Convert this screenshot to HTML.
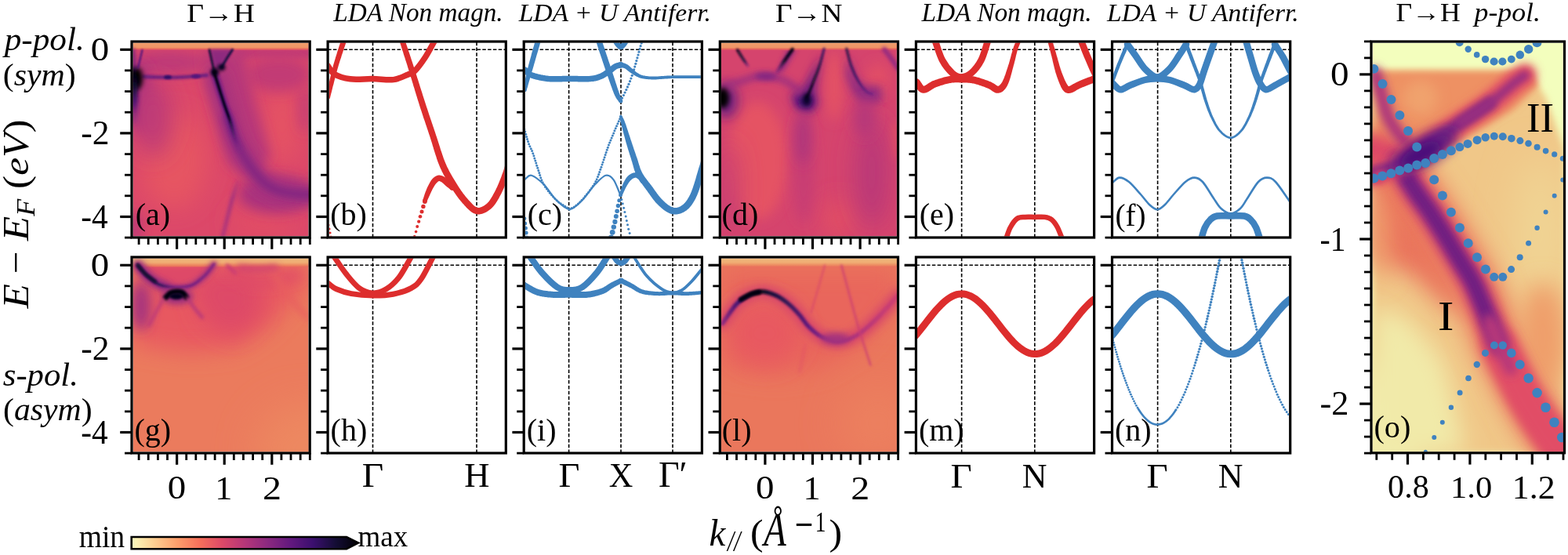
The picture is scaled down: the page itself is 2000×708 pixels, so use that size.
<!DOCTYPE html><html><head><meta charset="utf-8"><title>ARPES figure</title><style>html,body{margin:0;padding:0;background:#fff;width:2000px;height:708px;overflow:hidden}svg{display:block}</style></head><body><svg width="2000" height="708" viewBox="0 0 2000 708"><rect x="0" y="0" width="2000" height="708" fill="#fff"/><defs><clipPath id="cp00"><rect x="169.6" y="54.6" width="224" height="246.8"/></clipPath><clipPath id="cp01"><rect x="419.7" y="54.6" width="224" height="246.8"/></clipPath><clipPath id="cp02"><rect x="669.8" y="54.6" width="224" height="246.8"/></clipPath><clipPath id="cp03"><rect x="919.9" y="54.6" width="224" height="246.8"/></clipPath><clipPath id="cp04"><rect x="1170" y="54.6" width="224" height="246.8"/></clipPath><clipPath id="cp05"><rect x="1420.1" y="54.6" width="224" height="246.8"/></clipPath><clipPath id="cp10"><rect x="169.6" y="329.6" width="224" height="246.8"/></clipPath><clipPath id="cp11"><rect x="419.7" y="329.6" width="224" height="246.8"/></clipPath><clipPath id="cp12"><rect x="669.8" y="329.6" width="224" height="246.8"/></clipPath><clipPath id="cp13"><rect x="919.9" y="329.6" width="224" height="246.8"/></clipPath><clipPath id="cp14"><rect x="1170" y="329.6" width="224" height="246.8"/></clipPath><clipPath id="cp15"><rect x="1420.1" y="329.6" width="224" height="246.8"/></clipPath><clipPath id="cpo"><rect x="1750.6" y="54.6" width="243.3" height="521.6"/></clipPath><filter id="b05" filterUnits="userSpaceOnUse" x="0" y="0" width="2000" height="708"><feGaussianBlur stdDeviation="0.6"/></filter><filter id="b1" filterUnits="userSpaceOnUse" x="0" y="0" width="2000" height="708"><feGaussianBlur stdDeviation="1"/></filter><filter id="b2" filterUnits="userSpaceOnUse" x="0" y="0" width="2000" height="708"><feGaussianBlur stdDeviation="2"/></filter><filter id="b3" filterUnits="userSpaceOnUse" x="0" y="0" width="2000" height="708"><feGaussianBlur stdDeviation="3"/></filter><filter id="b6" filterUnits="userSpaceOnUse" x="0" y="0" width="2000" height="708"><feGaussianBlur stdDeviation="6"/></filter><filter id="b15b" filterUnits="userSpaceOnUse" x="0" y="0" width="2000" height="708"><feGaussianBlur stdDeviation="1.5"/></filter><filter id="b4" filterUnits="userSpaceOnUse" x="0" y="0" width="2000" height="708"><feGaussianBlur stdDeviation="4"/></filter><filter id="b8" filterUnits="userSpaceOnUse" x="0" y="0" width="2000" height="708"><feGaussianBlur stdDeviation="8"/></filter><filter id="b15" filterUnits="userSpaceOnUse" x="0" y="0" width="2000" height="708"><feGaussianBlur stdDeviation="15"/></filter><filter id="b25" filterUnits="userSpaceOnUse" x="0" y="0" width="2000" height="708"><feGaussianBlur stdDeviation="25"/></filter></defs><g clip-path="url(#cp00)"><rect x="169.6" y="54.6" width="224" height="246.8" fill="#dc4869"/><ellipse cx="222" cy="205" rx="42" ry="62" fill="#e65562" filter="url(#b15)"/><ellipse cx="360" cy="160" rx="22" ry="50" fill="#e55263" filter="url(#b15)"/><ellipse cx="335" cy="283" rx="40" ry="20" fill="#e24e65" filter="url(#b15)"/><ellipse cx="215" cy="80" rx="50" ry="16" fill="#bf3a77" filter="url(#b8)"/><ellipse cx="180" cy="125" rx="16" ry="45" fill="#aa337d" filter="url(#b8)"/><ellipse cx="172" cy="290" rx="8" ry="20" fill="#b73779" filter="url(#b8)"/><ellipse cx="388" cy="140" rx="6" ry="30" fill="#bf3a77" filter="url(#b8)"/><rect x="300" y="60" width="100" height="15" fill="#c23b75" filter="url(#b4)"/><ellipse cx="355" cy="95" rx="40" ry="22" fill="#c23b75" filter="url(#b8)"/><ellipse cx="195" cy="150" rx="25" ry="50" fill="#bf3a77" filter="url(#b15)"/><ellipse cx="352" cy="248" rx="48" ry="24" fill="#aa337d" filter="url(#b8)"/><path d="M258,63 310,63 325,130 345,200 320,225 292,210 275,140 262,100Z" fill="#b73779" filter="url(#b8)"/><path d="M276,100C278.7,109.3 281.3,118.8 284,128C286.7,137.2 289.2,146 292,155C294.8,164 297.2,173.7 301,182C304.8,190.3 309.8,197.3 315,205C320.2,212.7 325.2,221.7 332,228C338.8,234.3 347.3,239.7 356,243C364.7,246.3 377,247.2 384,248C391,248.8 393.3,248 398,248" fill="none" stroke="#a5317e" stroke-width="26" stroke-linecap="round" stroke-linejoin="round" filter="url(#b8)"/><path d="M290,150C292.7,157.3 294.8,164.3 298,172C301.2,179.7 305,188.7 309,196C313,203.3 317.2,209.7 322,216C326.8,222.3 332,229.3 338,234C344,238.7 350.3,241.7 358,244C365.7,246.3 377.3,247.3 384,248C390.7,248.7 393.3,248 398,248" fill="none" stroke="#842681" stroke-width="12" stroke-linecap="round" stroke-linejoin="round" filter="url(#b4)"/><defs><linearGradient id="gs1" gradientUnits="userSpaceOnUse" x1="273" y1="92" x2="305" y2="190"><stop offset="0" stop-color="#5c167f" stop-opacity="1"/><stop offset="0.7" stop-color="#641a80" stop-opacity="1"/><stop offset="1" stop-color="#842681" stop-opacity="0.6"/></linearGradient></defs><path d="M273,92C275,98.3 276.8,104.2 279,111C281.2,117.8 283.7,126 286,133C288.3,140 290.8,146 293,153C295.2,160 297,168.8 299,175C301,181.2 303,185 305,190" fill="none" stroke="url(#gs1)" stroke-width="8" stroke-linecap="round" stroke-linejoin="round" filter="url(#b2)"/><defs><linearGradient id="gs2" gradientUnits="userSpaceOnUse" x1="273" y1="92" x2="304" y2="187"><stop offset="0" stop-color="#02020b" stop-opacity="1"/><stop offset="0.6" stop-color="#06051a" stop-opacity="1"/><stop offset="1" stop-color="#641a80" stop-opacity="0"/></linearGradient></defs><path d="M273,92C275,98.3 276.8,104.2 279,111C281.2,117.8 283.7,126 286,133C288.3,140 290.8,146 293,153C295.2,160 297.2,169.3 299,175C300.8,180.7 302.3,183 304,187" fill="none" stroke="url(#gs2)" stroke-width="3.2" stroke-linecap="round" stroke-linejoin="round" filter="url(#b1)"/><defs><linearGradient id="gs3" gradientUnits="userSpaceOnUse" x1="303" y1="232" x2="284" y2="302"><stop offset="0" stop-color="#a1307e" stop-opacity="0.3"/><stop offset="0.3" stop-color="#a1307e" stop-opacity="1"/><stop offset="1" stop-color="#aa337d" stop-opacity="1"/></linearGradient></defs><path d="M303,232C300.7,239.7 298.2,247.3 296,255C293.8,262.7 292,270.2 290,278C288,285.8 286,294 284,302" fill="none" stroke="url(#gs3)" stroke-width="4.5" stroke-linecap="round" stroke-linejoin="round" filter="url(#b2)"/><defs><linearGradient id="ts224" x1="0" x2="0" y1="0" y2="1"><stop offset="0" stop-color="#f0c485"/><stop offset="0.1" stop-color="#ef9b69"/><stop offset="0.6" stop-color="#ef9566"/><stop offset="0.8" stop-color="#e9695c"/><stop offset="1" stop-color="#cf4070"/></linearGradient></defs><rect x="169.6" y="54.6" width="224" height="9.7" fill="url(#ts224)"/><path d="M267,63 297,63 283,85 274,91Z" fill="#842681" filter="url(#b2)" opacity="0.8"/><path d="M267,63.5C268,68 269,72.6 270,77C271,81.4 272,85.7 273,90" fill="none" stroke="#140e36" stroke-width="2.6" stroke-linecap="round" stroke-linejoin="round" filter="url(#b1)"/><path d="M296.5,63.5C294,67.3 291.2,71.4 289,75C286.8,78.6 285,81.7 283,85" fill="none" stroke="#1a1042" stroke-width="3" stroke-linecap="round" stroke-linejoin="round" filter="url(#b1)"/><ellipse cx="274" cy="92" rx="5" ry="5" fill="#02020b" filter="url(#b2)"/><ellipse cx="282.5" cy="86" rx="5" ry="4" fill="#06051a" filter="url(#b2)"/><path d="M183,97.7C188.7,98 192.2,98.4 200,98.5C207.8,98.6 219.3,98.9 230,98.5C240.7,98.1 252.7,96.8 264,96" fill="none" stroke="#641a80" stroke-width="4.6" stroke-linecap="round" stroke-linejoin="round" filter="url(#b15b)" opacity="0.9"/><ellipse cx="214" cy="98.5" rx="5" ry="2.5" fill="#331067" filter="url(#b1)"/><ellipse cx="250" cy="97.5" rx="6" ry="2.5" fill="#51127c" filter="url(#b1)"/><ellipse cx="175" cy="100" rx="7" ry="14" fill="#000004" filter="url(#b3)"/><defs><linearGradient id="gs4" gradientUnits="userSpaceOnUse" x1="171" y1="88" x2="170" y2="135"><stop offset="0" stop-color="#02020b" stop-opacity="1"/><stop offset="0.5" stop-color="#06051a" stop-opacity="1"/><stop offset="1" stop-color="#641a80" stop-opacity="0.6"/></linearGradient></defs><path d="M171,88C171,96 171.2,104.2 171,112C170.8,119.8 170.3,127.3 170,135" fill="none" stroke="url(#gs4)" stroke-width="6" stroke-linecap="round" stroke-linejoin="round" filter="url(#b2)"/><path d="M181.5,63.8L176,86.7" fill="none" stroke="#51127c" stroke-width="2.2" stroke-linecap="round" stroke-linejoin="round" filter="url(#b1)"/><path d="M170,63L172,88" fill="none" stroke="#641a80" stroke-width="3" stroke-linecap="round" stroke-linejoin="round" filter="url(#b2)"/><defs><linearGradient id="gs5" gradientUnits="userSpaceOnUse" x1="171" y1="100" x2="171" y2="155"><stop offset="0" stop-color="#06051a" stop-opacity="1"/><stop offset="0.5" stop-color="#3b0f70" stop-opacity="1"/><stop offset="1" stop-color="#8c2981" stop-opacity="0.5"/></linearGradient></defs><path d="M171,100C171.3,108.3 172,115.8 172,125C172,134.2 171.3,145 171,155" fill="none" stroke="url(#gs5)" stroke-width="7" stroke-linecap="round" stroke-linejoin="round" filter="url(#b3)"/></g><g clip-path="url(#cp03)"><rect x="919.9" y="54.6" width="224" height="246.8" fill="#d5446d"/><ellipse cx="966" cy="205" rx="38" ry="75" fill="#e55263" filter="url(#b8)"/><ellipse cx="1064" cy="110" rx="10" ry="45" fill="#e55263" filter="url(#b8)"/><ellipse cx="1070" cy="280" rx="20" ry="25" fill="#e34f64" filter="url(#b15)"/><ellipse cx="1141" cy="180" rx="5" ry="25" fill="#e34f64" filter="url(#b4)"/><ellipse cx="1120" cy="100" rx="15" ry="20" fill="#e14d66" filter="url(#b8)"/><ellipse cx="1112" cy="220" rx="22" ry="70" fill="#ba3878" filter="url(#b15)"/><ellipse cx="1025" cy="215" rx="14" ry="70" fill="#c83e73" filter="url(#b8)"/><ellipse cx="930" cy="240" rx="12" ry="60" fill="#c73d73" filter="url(#b15)"/><path d="M1048,68 1042,100 1040,118 1044,132 1034,145 1016,140 1008,122 1026,110Z" fill="#6b1d81" filter="url(#b6)"/><ellipse cx="1027" cy="130" rx="9" ry="9" fill="#3b0f70" filter="url(#b4)"/><ellipse cx="1024" cy="175" rx="9" ry="35" fill="#ad347c" filter="url(#b8)"/><path d="M1082,70 1092,100 1104,110 1124,110 1124,130 1100,135 1088,118 1079,95Z" fill="#8c2981" filter="url(#b6)"/><ellipse cx="1103" cy="150" rx="14" ry="25" fill="#b73779" filter="url(#b8)"/><ellipse cx="926" cy="128" rx="14" ry="22" fill="#641a80" filter="url(#b8)"/><path d="M1004,63 1016,63 1000,90 990,96Z" fill="#942c80" filter="url(#b3)"/><defs><linearGradient id="ts974" x1="0" x2="0" y1="0" y2="1"><stop offset="0" stop-color="#f0c485"/><stop offset="0.1" stop-color="#ef9b69"/><stop offset="0.6" stop-color="#ef9566"/><stop offset="0.8" stop-color="#e9695c"/><stop offset="1" stop-color="#d6456c"/></linearGradient></defs><rect x="919.9" y="54.6" width="224" height="9.8" fill="url(#ts974)"/><path d="M921,115C925.7,112.3 930.5,109 935,107C939.5,105 943.3,104.5 948,103C952.7,101.5 958.3,99 963,98C967.7,97 971.5,96.8 976,97C980.5,97.2 985.7,97.9 990,99C994.3,100.1 998.3,101.6 1002,103.4C1005.7,105.2 1008.5,107.6 1012,110C1015.5,112.4 1019.2,115.3 1022.8,118" fill="none" stroke="#9c2e7f" stroke-width="8" stroke-linecap="round" stroke-linejoin="round" filter="url(#b4)"/><ellipse cx="977" cy="97.5" rx="14" ry="5" fill="#842681" filter="url(#b3)"/><ellipse cx="922" cy="125" rx="8" ry="13" fill="#000004" filter="url(#b3)"/><defs><linearGradient id="gs6" gradientUnits="userSpaceOnUse" x1="940.5" y1="63.7" x2="953.9" y2="84"><stop offset="0" stop-color="#06051a" stop-opacity="1"/><stop offset="0.7" stop-color="#1a1042" stop-opacity="1"/><stop offset="1" stop-color="#641a80" stop-opacity="0.5"/></linearGradient></defs><path d="M940.5,63.7C942.7,67.1 944.8,70.6 947,74C949.2,77.4 951.6,80.7 953.9,84" fill="none" stroke="url(#gs6)" stroke-width="3.2" stroke-linecap="round" stroke-linejoin="round" filter="url(#b15b)"/><defs><linearGradient id="gs7" gradientUnits="userSpaceOnUse" x1="1010.8" y1="63" x2="991.4" y2="91.4"><stop offset="0" stop-color="#02020b" stop-opacity="1"/><stop offset="0.5" stop-color="#090720" stop-opacity="1"/><stop offset="1" stop-color="#641a80" stop-opacity="0.4"/></linearGradient></defs><path d="M1010.8,63C1007.5,67.7 1004.2,72.3 1001,77C997.8,81.7 994.6,86.6 991.4,91.4" fill="none" stroke="url(#gs7)" stroke-width="4.2" stroke-linecap="round" stroke-linejoin="round" filter="url(#b15b)"/><defs><linearGradient id="gs8" gradientUnits="userSpaceOnUse" x1="1051.2" y1="62.2" x2="1028.8" y2="124.4"><stop offset="0" stop-color="#331067" stop-opacity="1"/><stop offset="0.6" stop-color="#0b0924" stop-opacity="1"/><stop offset="1" stop-color="#000004" stop-opacity="1"/></linearGradient></defs><path d="M1051.2,62.2C1049.2,69.5 1047.4,77.1 1045.2,84C1043,90.9 1040,97.7 1037.8,103.4C1035.6,109.1 1033.3,114.9 1031.8,118.4C1030.3,121.9 1029.8,122.4 1028.8,124.4" fill="none" stroke="url(#gs8)" stroke-width="2.8" stroke-linecap="round" stroke-linejoin="round" filter="url(#b15b)"/><ellipse cx="1029" cy="127" rx="5" ry="8" fill="#06051a" filter="url(#b3)"/><defs><linearGradient id="gs9" gradientUnits="userSpaceOnUse" x1="1079.7" y1="62.2" x2="1112.6" y2="119.9"><stop offset="0" stop-color="#1a1042" stop-opacity="1"/><stop offset="0.6" stop-color="#331067" stop-opacity="1"/><stop offset="1" stop-color="#6b1d81" stop-opacity="0.8"/></linearGradient></defs><path d="M1079.7,62.2C1081.7,69.5 1083.2,77.1 1085.7,84C1088.2,90.9 1091.4,97.9 1094.6,103.4C1097.8,108.9 1102.1,114.2 1105.1,116.9C1108.1,119.7 1110.1,118.9 1112.6,119.9" fill="none" stroke="url(#gs9)" stroke-width="2.8" stroke-linecap="round" stroke-linejoin="round" filter="url(#b15b)"/><path d="M1128,63C1131,67 1134,70.8 1137,75C1140,79.2 1143,83.7 1146,88" fill="none" stroke="#942c80" stroke-width="6" stroke-linecap="round" stroke-linejoin="round" filter="url(#b2)"/></g><g clip-path="url(#cp10)"><rect x="169.6" y="329.6" width="224" height="246.8" fill="#eb7b5d"/><ellipse cx="395" cy="575" rx="70" ry="60" fill="#ed8860" filter="url(#b25)"/><path d="M170,338 395,338 395,360 340,420 300,445 240,450 170,440Z" fill="#e85960" filter="url(#b15)"/><path d="M240,345 330,345 335,400 300,430 260,410Z" fill="#de4968" filter="url(#b15)"/><path d="M290,345C303.3,350 315,359.2 330,360C345,360.8 363.3,353.3 380,350" fill="none" stroke="#de4968" stroke-width="10" stroke-linecap="round" stroke-linejoin="round" filter="url(#b8)"/><path d="M350,350C356.7,360 363,370.8 370,380C377,389.2 384.7,396.7 392,405" fill="none" stroke="#e85f5e" stroke-width="6" stroke-linecap="round" stroke-linejoin="round" filter="url(#b4)"/><ellipse cx="180" cy="390" rx="12" ry="32" fill="#a5317e" filter="url(#b8)"/><path d="M176,338 275,338 260,355 226,368 195,360Z" fill="#de4968" filter="url(#b4)"/><defs><linearGradient id="ts499" x1="0" x2="0" y1="0" y2="1"><stop offset="0" stop-color="#f0cd8d"/><stop offset="0.1" stop-color="#f0b77b"/><stop offset="0.5" stop-color="#f0ac73"/><stop offset="0.8" stop-color="#ed865f"/><stop offset="1" stop-color="#e9695c"/></linearGradient></defs><rect x="169.6" y="329.6" width="224" height="10.9" fill="url(#ts499)"/><path d="M175.5,338C179.7,342.8 183.2,348.2 188.2,352.5C193.1,356.8 198.8,361.3 205.2,363.8C211.6,366.3 219.8,367.5 226.4,367.5C233,367.5 238.8,366.5 244.7,363.8C250.6,361.1 257,355.6 261.7,351.1C266.4,346.6 269.2,341.7 273,337" fill="none" stroke="#a5317e" stroke-width="8" stroke-linecap="round" stroke-linejoin="round" filter="url(#b3)"/><path d="M176,338C180.1,342.8 184.2,348.7 188.2,352.5C192.2,356.3 196,358.8 200,361C204,363.2 208,364.3 212,366" fill="none" stroke="#942c80" stroke-width="12" stroke-linecap="round" stroke-linejoin="round" filter="url(#b4)"/><defs><linearGradient id="gs10" gradientUnits="userSpaceOnUse" x1="175" y1="337" x2="273" y2="337"><stop offset="0" stop-color="#0e0b2b" stop-opacity="1"/><stop offset="0.3" stop-color="#251255" stop-opacity="1"/><stop offset="0.5" stop-color="#641a80" stop-opacity="1"/><stop offset="1" stop-color="#7c2382" stop-opacity="1"/></linearGradient></defs><path d="M175.5,337.7C179.7,342.6 183.2,348.1 188.2,352.5C193.1,356.9 198.8,361.4 205.2,363.8C211.6,366.2 219.8,366.6 226.4,366.6C233,366.6 238.8,366.4 244.7,363.8C250.6,361.2 257,355.6 261.7,351.1C266.4,346.6 269.2,341.7 273,337" fill="none" stroke="url(#gs10)" stroke-width="3.2" stroke-linecap="round" stroke-linejoin="round" filter="url(#b15b)"/><path d="M176,339C179.3,342.7 182.3,346.7 186,350C189.7,353.3 194,356 198,359" fill="none" stroke="#140e36" stroke-width="4.5" stroke-linecap="round" stroke-linejoin="round" filter="url(#b15b)"/><path d="M290,339L300,348" fill="none" stroke="#ca3e72" stroke-width="5" stroke-linecap="round" stroke-linejoin="round" filter="url(#b2)"/><path d="M305,341C313.3,341.7 322.2,343 330,343C337.8,343 344.7,341.7 352,341" fill="none" stroke="#cf4070" stroke-width="7" stroke-linecap="round" stroke-linejoin="round" filter="url(#b4)"/><ellipse cx="226" cy="378" rx="20" ry="10" fill="#942c80" filter="url(#b4)"/><path d="M211.5,379.3C213.7,377.4 215.5,374.7 218,373.5C220.5,372.3 223.9,372 226.4,372C228.9,372 231.2,372.3 233,373.5C234.8,374.7 236,377.2 237.5,379" fill="none" stroke="#02020b" stroke-width="7" stroke-linecap="round" stroke-linejoin="round" filter="url(#b15b)"/><ellipse cx="225" cy="378" rx="9" ry="4" fill="#06051a" filter="url(#b15b)"/><path d="M239,380C242,384.3 244.8,388.8 248,393C251.2,397.2 254.7,401 258,405" fill="none" stroke="#b73779" stroke-width="4" stroke-linecap="round" stroke-linejoin="round" filter="url(#b2)"/><path d="M208,382C204.7,388 201,394.5 198,400C195,405.5 192.7,410 190,415" fill="none" stroke="#bf3a77" stroke-width="4" stroke-linecap="round" stroke-linejoin="round" filter="url(#b2)"/></g><g clip-path="url(#cp13)"><rect x="919.9" y="329.6" width="224" height="246.8" fill="#ea775c"/><ellipse cx="1120" cy="540" rx="50" ry="50" fill="#ec805e" filter="url(#b25)"/><path d="M920,345 1146,345 1146,380 1100,440 1050,470 990,480 920,470Z" fill="#e9665c" filter="url(#b15)"/><ellipse cx="975" cy="425" rx="45" ry="40" fill="#e85960" filter="url(#b15)"/><defs><linearGradient id="ts1249" x1="0" x2="0" y1="0" y2="1"><stop offset="0" stop-color="#f0cd8d"/><stop offset="0.1" stop-color="#f0b77b"/><stop offset="0.5" stop-color="#f0ac73"/><stop offset="0.8" stop-color="#ed8a61"/><stop offset="1" stop-color="#e96f5c"/></linearGradient></defs><rect x="919.9" y="329.6" width="224" height="10.9" fill="url(#ts1249)"/><path d="M921.5,412.7C927.4,404.5 933.6,393.9 939.2,388C944.8,382.1 949.7,379.7 955,377C960.3,374.3 965.2,372 971,372C976.8,372 984.1,374.3 990,377C995.9,379.7 1001.2,383.8 1006.2,388C1011.2,392.2 1015.9,397.3 1020,402C1024.1,406.7 1026.8,411.9 1031,416.2C1035.2,420.5 1040.3,425 1045,428C1049.7,431 1055.1,432.7 1059.2,434C1063.3,435.3 1066,435.9 1069.8,435.7C1073.6,435.5 1077.9,434.5 1082,433C1086.1,431.5 1090.2,429.6 1094.5,426.8C1098.8,424 1103.3,420.1 1108,416C1112.7,411.9 1116.4,408.7 1122.7,402C1129,395.3 1138.2,384.7 1146,376" fill="none" stroke="#d6456c" stroke-width="16" stroke-linecap="round" stroke-linejoin="round" filter="url(#b6)"/><defs><linearGradient id="gs11" gradientUnits="userSpaceOnUse" x1="921" y1="400" x2="1146" y2="400"><stop offset="0" stop-color="#942c80" stop-opacity="1"/><stop offset="0.1" stop-color="#3b0f70" stop-opacity="1"/><stop offset="0.2" stop-color="#050416" stop-opacity="1"/><stop offset="0.3" stop-color="#1a1042" stop-opacity="1"/><stop offset="0.5" stop-color="#641a80" stop-opacity="1"/><stop offset="0.6" stop-color="#942c80" stop-opacity="1"/><stop offset="0.8" stop-color="#b73779" stop-opacity="1"/><stop offset="1" stop-color="#cf4070" stop-opacity="1"/></linearGradient></defs><path d="M921.5,412.7C927.4,404.5 933.6,393.9 939.2,388C944.8,382.1 949.7,379.7 955,377C960.3,374.3 965.2,372 971,372C976.8,372 984.1,374.3 990,377C995.9,379.7 1001.2,383.8 1006.2,388C1011.2,392.2 1015.9,397.3 1020,402C1024.1,406.7 1026.8,411.9 1031,416.2C1035.2,420.5 1040.3,425 1045,428C1049.7,431 1055.1,432.7 1059.2,434C1063.3,435.3 1066,435.9 1069.8,435.7C1073.6,435.5 1077.9,434.5 1082,433C1086.1,431.5 1090.2,429.6 1094.5,426.8C1098.8,424 1103.3,420.1 1108,416C1112.7,411.9 1116.4,408.7 1122.7,402C1129,395.3 1138.2,384.7 1146,376" fill="none" stroke="url(#gs11)" stroke-width="5.5" stroke-linecap="round" stroke-linejoin="round" filter="url(#b15b)"/><ellipse cx="1066" cy="432" rx="18" ry="7" fill="#a1307e" filter="url(#b4)"/><path d="M945,382C949.3,379.7 954.2,376.5 958,375C961.8,373.5 964.7,373.7 968,373" fill="none" stroke="#02020b" stroke-width="6" stroke-linecap="round" stroke-linejoin="round" filter="url(#b15b)"/><path d="M1052,338.6C1049,349.1 1045.9,360 1043,370C1040.1,380 1037.3,389.1 1034.5,398.6" fill="none" stroke="#d6456c" stroke-width="2.4" stroke-linecap="round" stroke-linejoin="round" filter="url(#b15b)" opacity="0.7"/><path d="M1073.3,338.6C1076.9,351.7 1080.5,365.1 1084,378C1087.5,390.9 1091.5,405.9 1094.5,416.2C1097.5,426.5 1099.3,431.8 1102,440C1104.7,448.2 1107.6,457.1 1110.4,465.7" fill="none" stroke="#ca3e72" stroke-width="2.6" stroke-linecap="round" stroke-linejoin="round" filter="url(#b15b)" opacity="0.8"/><path d="M1027,440L1020,475" fill="none" stroke="#de4968" stroke-width="2.5" stroke-linecap="round" stroke-linejoin="round" filter="url(#b2)" opacity="0.6"/></g><g clip-path="url(#cpo)"><rect x="1750.6" y="54.6" width="243.3" height="521.6" fill="#f3febd"/><path d="M1751,90 1950,90 1972,125 1995,190 1995,578 1751,578Z" fill="#f0c788" filter="url(#b4)"/><ellipse cx="1772" cy="545" rx="45" ry="90" fill="#f2f1b0" filter="url(#b25)"/><path d="M1751,390 1795,405 1840,460 1870,578 1751,578Z" fill="#f1eaa9" filter="url(#b15)"/><ellipse cx="1965" cy="300" rx="30" ry="100" fill="#f0d695" filter="url(#b25)"/><path d="M1751,91 1948,91 1962,108 1930,140 1880,170 1820,200 1751,215Z" fill="#ee9164" filter="url(#b4)"/><ellipse cx="1812" cy="125" rx="22" ry="22" fill="#f0a26d" filter="url(#b8)"/><ellipse cx="1751" cy="150" rx="5" ry="30" fill="#f0c082" filter="url(#b4)"/><path d="M1751,200 1790,215 1830,290 1860,360 1872,400 1850,395 1800,350 1751,330Z" fill="#ea735c" filter="url(#b15)"/><ellipse cx="1760" cy="300" rx="10" ry="60" fill="#f0a26d" filter="url(#b15)"/><path d="M1751,190C1761.3,195.3 1773.1,197.3 1782,206C1790.9,214.7 1797.5,231.6 1804.5,242.4C1811.5,253.2 1817.7,260.7 1824.3,270.6C1830.9,280.5 1837.9,291.8 1844,301.7C1850.1,311.6 1855.3,320.6 1861,330C1866.7,339.4 1873.3,349.3 1878,358.2C1882.7,367.1 1885.5,375 1889.2,383.6C1892.9,392.2 1896.2,400.6 1900,410C1903.8,419.4 1907.5,430 1912,440C1916.5,450 1921.5,459.2 1927,470C1932.5,480.8 1938.7,493.7 1945,505C1951.3,516.3 1956.7,525.5 1965,538C1973.3,550.5 1985,566 1995,580" fill="none" stroke="#eb7c5d" stroke-width="60" stroke-linecap="round" stroke-linejoin="round" filter="url(#b15)"/><ellipse cx="1968" cy="430" rx="30" ry="70" fill="#ef9e6b" filter="url(#b15)"/><path d="M1751,190C1761.3,195.3 1773.1,197.3 1782,206C1790.9,214.7 1797.5,231.6 1804.5,242.4C1811.5,253.2 1817.7,260.7 1824.3,270.6C1830.9,280.5 1837.9,291.8 1844,301.7C1850.1,311.6 1855.3,320.6 1861,330C1866.7,339.4 1873.3,349.3 1878,358.2C1882.7,367.1 1885.5,375 1889.2,383.6C1892.9,392.2 1896.2,400.6 1900,410C1903.8,419.4 1907.5,430 1912,440C1916.5,450 1921.5,459.2 1927,470C1932.5,480.8 1938.7,493.7 1945,505C1951.3,516.3 1956.7,525.5 1965,538C1973.3,550.5 1985,566 1995,580" fill="none" stroke="#de4968" stroke-width="36" stroke-linecap="round" stroke-linejoin="round" filter="url(#b8)"/><path d="M1912,440C1917,450 1921.5,459.2 1927,470C1932.5,480.8 1938.7,493.7 1945,505C1951.3,516.3 1956.7,525.5 1965,538C1973.3,550.5 1985,566 1995,580" fill="none" stroke="#e14d66" stroke-width="44" stroke-linecap="round" stroke-linejoin="round" filter="url(#b8)"/><path d="M1782,206C1789.5,218.1 1797.5,231.6 1804.5,242.4C1811.5,253.2 1817.7,260.7 1824.3,270.6C1830.9,280.5 1837.9,291.8 1844,301.7C1850.1,311.6 1855.3,320.6 1861,330C1866.7,339.4 1873.3,349.3 1878,358.2C1882.7,367.1 1885.5,375 1889.2,383.6C1892.9,392.2 1896.2,400.6 1900,410C1903.8,419.4 1908,430 1912,440" fill="none" stroke="#8c2981" stroke-width="26" stroke-linecap="round" stroke-linejoin="round" filter="url(#b6)"/><path d="M1782,206C1789.5,218.1 1797.5,231.6 1804.5,242.4C1811.5,253.2 1817.7,260.7 1824.3,270.6C1830.9,280.5 1837.9,291.8 1844,301.7C1850.1,311.6 1855.3,320.6 1861,330C1866.7,339.4 1873.3,349.3 1878,358.2C1882.7,367.1 1885.5,375 1889.2,383.6C1892.9,392.2 1896.4,401.2 1900,410" fill="none" stroke="#701f81" stroke-width="14" stroke-linecap="round" stroke-linejoin="round" filter="url(#b4)"/><path d="M1900,410C1904,420 1907.5,430 1912,440C1916.5,450 1922,460 1927,470" fill="none" stroke="#b73779" stroke-width="18" stroke-linecap="round" stroke-linejoin="round" filter="url(#b6)"/><path d="M1754,93C1756.7,102 1759.3,110.8 1762,120C1764.7,129.2 1766.7,140 1770,148C1773.3,156 1777.5,161.8 1782,168C1786.5,174.2 1792,179.3 1797,185" fill="none" stroke="#aa337d" stroke-width="16" stroke-linecap="round" stroke-linejoin="round" filter="url(#b6)"/><path d="M1751,222C1762.7,217.2 1773.8,214.2 1786,207.6C1798.2,201 1811.6,190.7 1824.3,182.2C1837,173.7 1849.7,165.3 1862.4,156.8C1875.1,148.3 1889.2,139.9 1900.6,131.4C1912,122.9 1923.6,111.9 1931,106C1938.4,100.1 1940.3,99.3 1945,96" fill="none" stroke="#e34f64" stroke-width="30" stroke-linecap="round" stroke-linejoin="round" filter="url(#b6)"/><path d="M1751,222C1762.7,217.2 1773.8,214.2 1786,207.6C1798.2,201 1811.6,190.7 1824.3,182.2C1837,173.7 1849.7,165.3 1862.4,156.8C1875.1,148.3 1887.9,139.9 1900.6,131.4" fill="none" stroke="#802582" stroke-width="16" stroke-linecap="round" stroke-linejoin="round" filter="url(#b4)"/><path d="M1862.4,156.8C1875.1,148.3 1889.2,139.9 1900.6,131.4C1912,122.9 1923.6,111.9 1931,106C1938.4,100.1 1940.3,99.3 1945,96" fill="none" stroke="#992d80" stroke-width="12" stroke-linecap="round" stroke-linejoin="round" filter="url(#b4)"/><ellipse cx="1818" cy="192" rx="46" ry="17" fill="#641a80" filter="url(#b8)" transform="rotate(-30 1818 192)"/><ellipse cx="1812" cy="197" rx="28" ry="11" fill="#4c117a" filter="url(#b6)" transform="rotate(-28 1812 197)"/><ellipse cx="1760" cy="225" rx="10" ry="8" fill="#d6456c" filter="url(#b4)"/></g><g stroke="#000" stroke-width="1.6" stroke-dasharray="4.5 2.3" fill="none"><line x1="418.1" y1="63.3" x2="645.3" y2="63.3"/><line x1="475.5" y1="303" x2="475.5" y2="53"/><line x1="608" y1="303" x2="608" y2="53"/><line x1="668.2" y1="63.3" x2="895.4" y2="63.3"/><line x1="725.6" y1="303" x2="725.6" y2="53"/><line x1="792" y1="303" x2="792" y2="53"/><line x1="858" y1="303" x2="858" y2="53"/><line x1="1168.4" y1="63.3" x2="1395.6" y2="63.3"/><line x1="1226.6" y1="303" x2="1226.6" y2="53"/><line x1="1319.8" y1="303" x2="1319.8" y2="53"/><line x1="1418.5" y1="63.3" x2="1645.7" y2="63.3"/><line x1="1476.6" y1="303" x2="1476.6" y2="53"/><line x1="1569.8" y1="303" x2="1569.8" y2="53"/><line x1="418.1" y1="338.3" x2="645.3" y2="338.3"/><line x1="475.5" y1="578" x2="475.5" y2="328"/><line x1="608" y1="578" x2="608" y2="328"/><line x1="668.2" y1="338.3" x2="895.4" y2="338.3"/><line x1="725.6" y1="578" x2="725.6" y2="328"/><line x1="792" y1="578" x2="792" y2="328"/><line x1="858" y1="578" x2="858" y2="328"/><line x1="1168.4" y1="338.3" x2="1395.6" y2="338.3"/><line x1="1226.6" y1="578" x2="1226.6" y2="328"/><line x1="1319.8" y1="578" x2="1319.8" y2="328"/><line x1="1418.5" y1="338.3" x2="1645.7" y2="338.3"/><line x1="1476.6" y1="578" x2="1476.6" y2="328"/><line x1="1569.8" y1="578" x2="1569.8" y2="328"/></g><g clip-path="url(#cp01)"><g fill="#dd2d2d"><path d="M435.5,49.9 434.8,52 434.1,54.1 433.5,56.2 432.8,58.3 432.1,60.4 431.5,62.5 430.8,64.5 430.1,66.6 429.5,68.7 428.8,70.9 428.1,73 427.5,75.2 426.8,77.4 426.2,79.6 425.5,81.8 424.9,84.1 424.3,86.5 423.7,88.8 423.1,91.2 422.5,93.6 421.9,96.1 421.3,98.5 420.7,101 420.2,103.5 419.6,106 419,108.5 418.5,111 417.9,113.5 417.3,116 416.8,118.4 416.2,120.9 415.6,123.3 421,124.7 421.6,122.2 422.2,119.8 422.9,117.3 423.5,114.8 424.1,112.3 424.7,109.8 425.4,107.4 426,104.9 426.6,102.4 427.3,100 427.9,97.6 428.5,95.2 429.2,92.8 429.8,90.5 430.5,88.1 431.1,85.9 431.8,83.6 432.4,81.4 433.1,79.3 433.8,77.1 434.5,75 435.2,72.9 435.8,70.8 436.5,68.7 437.2,66.7 437.9,64.6 438.6,62.5 439.3,60.5 440,58.4 440.7,56.3 441.4,54.2 442.1,52.1Z"/><circle cx="438.8" cy="51" r="3.5"/><circle cx="418.3" cy="124" r="2.8"/></g><path d="M418.3,84C421,87.5 421.8,91.7 426.5,94.5C431.2,97.3 438.6,99.8 446.7,100.8C454.8,101.8 466,100.5 475.2,100.6C484.4,100.7 494.3,102.5 501.8,101.6C509.3,100.7 515.5,97.1 520.1,95.2C524.7,93.3 525.6,93.8 529.3,90.2C533,86.6 537.9,79.9 542.2,73.4C546.5,66.9 550.7,58.5 555,51" fill="none" stroke="#dd2d2d" stroke-width="7.5" stroke-linecap="round" stroke-linejoin="round"/><g fill="#dd2d2d"><path d="M509.5,52.1 510.2,54.5 511,56.9 511.8,59.4 512.5,61.8 513.3,64.2 514.1,66.6 514.8,69 515.6,71.4 516.4,73.8 517.1,76.2 517.9,78.6 518.7,81.1 519.5,83.6 520.2,86.1 521,88.6 521.8,91.1 522.6,93.7 523.4,96.3 524.2,99 525.1,101.7 525.9,104.4 526.7,107.1 527.5,109.9 528.4,112.6 529.2,115.4 530,118.1 530.9,120.9 531.7,123.6 532.5,126.3 533.4,129 534.2,131.6 535,134.2 535.8,136.8 536.6,139.3 537.5,141.8 538.3,144.3 539.1,146.8 539.9,149.2 540.7,151.7 541.6,154.1 542.4,156.5 543.2,158.9 544,161.3 544.8,163.7 545.6,166.1 546.4,168.5 547.2,170.9 548,173.3 548.8,175.7 549.5,178.1 550.3,180.5 551.1,183 551.8,185.5 552.6,187.9 553.3,190.4 554.1,192.9 554.8,195.3 555.6,197.7 556.4,200.1 557.1,202.4 557.9,204.7 558.7,207 559.5,209.1 560.4,211.2 561.2,213.2 562.1,215.2 563,217.1 563.8,218.9 564.7,220.6 565.6,222.4 566.5,224 567.4,225.6 568.3,227.2 569.2,228.8 570.1,230.3 571,231.8 571.9,233.2 572.7,234.7 573.6,236.1 574.5,237.5 575.3,238.9 576.2,240.3 577.1,241.7 577.9,243.1 578.8,244.4 579.7,245.7 580.6,247 581.4,248.3 582.3,249.6 583.2,250.8 584.1,252 585,253.2 586,254.4 586.9,255.6 587.8,256.7 588.8,257.8 589.7,258.9 590.7,259.9 591.7,261.1 592.6,262.2 593.7,263.3 594.7,264.4 595.7,265.5 596.8,266.6 597.9,267.6 599,268.6 600.2,269.6 601.4,270.5 602.6,271.3 603.9,272 605.3,272.6 606.7,273 608.2,273.3 609.6,273.4 611,273.4 612.4,273.3 613.7,273.1 615.1,272.7 616.3,272.3 617.6,271.8 618.8,271.3 620,270.7 621.1,270 622.3,269.3 623.3,268.6 624.4,267.8 625.4,267 626.4,266.2 627.4,265.3 628.4,264.3 629.3,263.3 630.2,262.2 631.1,261.1 631.9,259.9 632.7,258.7 633.5,257.5 634.3,256.2 635,255 635.8,253.7 636.5,252.4 637.2,251.1 637.9,249.8 638.6,248.5 639.3,247.2 640,245.8 640.7,244.3 641.4,242.8 642.1,241.2 642.8,239.7 643.5,238 644.2,236.4 644.8,234.8 645.5,233.2 646.1,231.6 646.7,230 647.3,228.5 647.9,227 648.4,225.5 648.9,224.2 649.4,222.8 649.9,221.6 650.3,220.3 650.6,219.1 651,218 651.3,216.9 651.6,215.8 651.9,214.8 652.1,213.8 652.4,212.8 652.6,211.8 652.9,210.9 653.1,209.9 653.3,209 653.6,208.1 653.8,207.1 654.1,206.1 645.9,203.9 645.6,204.9 645.3,205.9 645.1,206.9 644.8,207.9 644.6,208.9 644.4,209.8 644.1,210.7 643.9,211.7 643.7,212.6 643.4,213.6 643.1,214.6 642.9,215.6 642.5,216.6 642.2,217.7 641.8,218.8 641.4,220 640.9,221.2 640.4,222.6 639.9,224 639.4,225.5 638.8,227 638.2,228.5 637.6,230.1 637,231.6 636.3,233.2 635.7,234.7 635,236.3 634.4,237.8 633.7,239.2 633,240.6 632.4,242 631.7,243.2 631.1,244.5 630.4,245.8 629.7,247.1 629,248.3 628.4,249.5 627.7,250.7 627,251.8 626.3,253 625.6,254 625,255 624.3,256 623.6,256.9 622.9,257.7 622.2,258.5 621.5,259.2 620.8,259.8 620.1,260.4 619.2,261.1 618.4,261.7 617.6,262.2 616.8,262.7 615.9,263.2 615.1,263.6 614.3,264 613.5,264.3 612.7,264.6 612,264.8 611.3,264.9 610.6,264.9 610,264.9 609.4,264.9 608.9,264.8 608.3,264.6 607.7,264.3 607,264 606.2,263.5 605.4,262.9 604.5,262.2 603.7,261.4 602.7,260.5 601.8,259.6 600.9,258.6 599.9,257.6 599,256.5 598,255.4 597.1,254.4 596.1,253.3 595.2,252.2 594.3,251.2 593.5,250.2 592.6,249.1 591.8,248 590.9,246.9 590.1,245.8 589.2,244.6 588.4,243.5 587.6,242.3 586.8,241 585.9,239.8 585.1,238.5 584.3,237.2 583.4,235.8 582.6,234.5 581.7,233.1 580.9,231.7 580,230.2 579.1,228.8 578.3,227.4 577.4,225.9 576.5,224.5 575.7,223 574.8,221.5 574,220 573.1,218.4 572.3,216.8 571.5,215.1 570.6,213.4 569.8,211.7 569,209.8 568.2,208 567.4,206 566.6,204 565.8,201.9 565.1,199.7 564.3,197.4 563.5,195.1 562.7,192.8 561.9,190.4 561.2,188 560.4,185.5 559.6,183 558.8,180.6 558,178.1 557.2,175.6 556.4,173.2 555.6,170.7 554.8,168.3 554,165.9 553.2,163.6 552.4,161.2 551.6,158.8 550.8,156.4 550,154 549.1,151.6 548.3,149.1 547.5,146.7 546.7,144.3 545.9,141.8 545.1,139.3 544.2,136.8 543.4,134.3 542.6,131.8 541.8,129.2 540.9,126.6 540.1,123.9 539.2,121.3 538.4,118.6 537.5,115.8 536.6,113.1 535.8,110.4 534.9,107.6 534.1,104.9 533.2,102.1 532.3,99.4 531.5,96.7 530.6,94.1 529.8,91.5 529,88.9 528.1,86.3 527.3,83.8 526.5,81.3 525.7,78.8 524.9,76.4 524.1,74 523.3,71.5 522.5,69.1 521.7,66.7 520.9,64.3 520.1,61.9 519.3,59.6 518.5,57.2 517.7,54.8 516.9,52.3 516.1,49.9Z"/><circle cx="512.8" cy="51" r="3.5"/><circle cx="650" cy="205" r="4.2"/></g><g fill="#dd2d2d"><circle cx="528.7" cy="301.5" r="1.7"/><circle cx="530.6" cy="295.6" r="1.8"/><circle cx="532.2" cy="289.1" r="2"/><circle cx="534.2" cy="282.7" r="2.1"/><circle cx="536" cy="276.2" r="2.3"/><circle cx="538" cy="269.9" r="2.5"/><circle cx="539.9" cy="263.4" r="2.7"/><circle cx="541.9" cy="257" r="2.9"/></g><g fill="#dd2d2d"><path d="M544.6,257 544.8,256.5 545,256 545.2,255.5 545.4,255 545.6,254.5 545.8,254 546,253.6 546.3,253.1 546.5,252.6 546.7,252.1 546.9,251.7 547.1,251.2 547.3,250.7 547.5,250.2 547.8,249.7 548,249.2 548.2,248.7 548.5,248.2 548.7,247.6 549,247.1 549.2,246.5 549.5,246 549.7,245.4 550,244.8 550.2,244.3 550.5,243.7 550.8,243.2 551,242.7 551.3,242.1 551.6,241.6 551.8,241.1 552.1,240.6 552.4,240.1 552.7,239.6 553,239.1 553.3,238.6 553.6,238 553.9,237.5 554.2,237 554.5,236.5 554.8,236.1 555.1,235.6 555.4,235.2 555.7,234.8 556,234.4 556.3,234.1 556.6,233.8 556.8,233.5 557.1,233.2 557.3,232.9 557.6,232.7 557.8,232.4 558.1,232.2 558.3,232 558.5,231.8 558.8,231.7 559,231.5 559.1,231.4 559.3,231.3 559.5,231.3 559.6,231.2 559.8,231.1 559.9,231.1 560,231.1 560.1,231.1 560.1,231.1 560.2,231.1 560.4,231.1 560.5,231.1 560.6,231.1 560.8,231.2 561,231.2 561.2,231.3 561.4,231.4 561.7,231.5 561.9,231.6 562.2,231.7 562.5,231.9 562.8,232 563,232.2 563.3,232.3 563.5,232.5 563.8,232.7 564.1,232.9 564.4,233.2 564.7,233.4 565.1,233.8 565.4,234.1 565.8,234.4 566.2,234.8 566.6,235.2 567,235.5 567.4,235.9 567.8,236.3 568.2,236.7 568.6,237.1 569,237.4 569.4,237.7 569.8,238 570.2,238.4 570.6,238.7 571,239 571.4,239.3 571.8,239.6 572.2,240 572.6,240.3 573,240.6 573.4,240.9 573.8,241.2 574.2,241.6 574.6,241.9 575,242.2 579,237.8 578.7,237.4 578.3,237.1 578,236.7 577.6,236.3 577.3,236 576.9,235.6 576.5,235.2 576.2,234.9 575.8,234.5 575.5,234.1 575.1,233.8 574.8,233.4 574.4,233 574.1,232.7 573.7,232.3 573.4,231.9 573,231.6 572.7,231.3 572.4,230.9 572,230.5 571.7,230.1 571.3,229.7 570.9,229.3 570.5,228.9 570.1,228.5 569.7,228.1 569.3,227.7 568.9,227.3 568.4,226.9 568,226.5 567.5,226.1 567,225.8 566.5,225.5 566.1,225.3 565.6,225.1 565.2,224.8 564.7,224.6 564.2,224.4 563.7,224.2 563.2,224 562.7,223.9 562.1,223.8 561.6,223.7 561,223.6 560.4,223.6 559.8,223.6 559.2,223.6 558.6,223.7 558,223.8 557.5,224 556.9,224.2 556.4,224.4 555.9,224.7 555.4,224.9 554.9,225.2 554.5,225.5 554,225.9 553.6,226.2 553.2,226.5 552.7,226.9 552.3,227.3 552,227.7 551.6,228.1 551.2,228.5 550.8,229 550.4,229.5 550,230 549.7,230.6 549.3,231.1 549,231.7 548.6,232.2 548.3,232.8 548,233.4 547.7,233.9 547.4,234.5 547.1,235.1 546.8,235.7 546.5,236.2 546.2,236.8 545.9,237.4 545.6,237.9 545.3,238.5 545.1,239.1 544.8,239.7 544.5,240.3 544.3,241 544,241.6 543.8,242.2 543.5,242.8 543.3,243.4 543.1,243.9 542.8,244.5 542.6,245.1 542.4,245.7 542.2,246.2 542,246.8 541.8,247.3 541.6,247.9 541.4,248.4 541.3,249 541.1,249.5 540.9,250 540.8,250.5 540.6,251 540.5,251.5 540.3,252 540.2,252.5 540,253 539.9,253.5 539.7,254 539.6,254.5 539.4,255Z"/><circle cx="542" cy="256" r="2.8"/><circle cx="577" cy="240" r="3"/></g><g fill="#dd2d2d"><circle cx="417.9" cy="281.7" r="1.6"/><circle cx="419" cy="287" r="1.6"/><circle cx="420" cy="292" r="1.6"/><circle cx="421" cy="297" r="1.6"/><circle cx="422" cy="302" r="1.6"/></g></g><g clip-path="url(#cp02)"><g fill="#3f82bf"><path d="M683.2,50 682.6,52.2 682.1,54.3 681.5,56.5 680.9,58.7 680.2,60.8 679.6,63 679,65.2 678.4,67.3 677.8,69.5 677.3,71.7 676.7,73.8 676.1,75.9 675.5,78 675,80.1 674.4,82.1 673.9,84.1 673.4,86.1 672.9,88.1 672.4,90 672,91.9 671.5,93.8 671.1,95.7 670.6,97.6 670.2,99.4 669.8,101.2 669.4,103.1 668.9,104.9 668.5,106.7 668.1,108.5 667.7,110.4 667.2,112.2 666.8,114.1 671.6,115.3 672.1,113.5 672.7,111.7 673.2,109.9 673.7,108 674.2,106.2 674.7,104.4 675.3,102.6 675.8,100.8 676.3,99 676.8,97.2 677.3,95.4 677.9,93.5 678.4,91.6 679,89.7 679.6,87.8 680.1,85.9 680.7,83.9 681.3,81.8 681.9,79.8 682.5,77.7 683.1,75.6 683.7,73.5 684.3,71.3 684.9,69.2 685.6,67 686.2,64.9 686.8,62.7 687.5,60.5 688.1,58.4 688.7,56.2 689.3,54.1 690,52Z"/><circle cx="686.6" cy="51" r="3.5"/><circle cx="669.2" cy="114.7" r="2.5"/></g><g fill="#3f82bf"><path d="M666.9,91.9 667.3,92.3 667.7,92.7 668.1,93 668.5,93.4 668.9,93.9 669.4,94.3 669.9,94.8 670.4,95.4 671,95.9 671.6,96.5 672.4,97 673.2,97.6 674,98.1 675,98.6 676,99.1 677.1,99.5 678.2,99.9 679.4,100.3 680.6,100.7 681.9,101 683.3,101.4 684.7,101.8 686.1,102.1 687.6,102.4 689.1,102.7 690.6,103 692.2,103.3 693.8,103.5 695.3,103.8 696.9,104 698.5,104.2 700.1,104.3 701.7,104.5 703.3,104.5 704.9,104.6 706.5,104.6 708.1,104.6 709.8,104.6 711.4,104.6 713.1,104.5 714.7,104.5 716.4,104.4 718,104.3 719.6,104.3 721.2,104.2 722.8,104.2 724.4,104.2 726,104.1 727.6,104.2 729.2,104.2 730.9,104.2 732.6,104.2 734.3,104.3 736.1,104.3 737.8,104.4 739.5,104.4 741.2,104.5 742.9,104.5 744.6,104.5 746.2,104.5 747.7,104.5 749.2,104.5 750.7,104.4 752.1,104.3 753.3,104.2 754.5,104.1 755.7,104 756.7,103.9 757.8,103.7 758.8,103.5 759.7,103.4 760.6,103.2 761.5,102.9 762.4,102.7 763.2,102.5 764.1,102.2 764.9,101.9 765.7,101.6 766.5,101.3 767.4,101 768.3,100.6 769.2,100.2 770.1,99.7 771,99.3 771.8,98.8 772.6,98.3 773.4,97.8 774.2,97.3 775,96.8 775.7,96.3 776.4,95.8 777.1,95.3 777.8,94.9 778.4,94.4 779,94 779.6,93.6 780.2,93.2 780.9,92.7 781.5,92.3 782,91.8 782.5,91.4 783,91 783.5,90.6 784,90.2 784.4,89.8 784.8,89.5 785.2,89.2 785.5,88.9 785.9,88.7 786.2,88.5 786.5,88.3 786.8,88.1 787.1,87.9 787.4,87.8 787.7,87.7 788,87.6 788.3,87.5 788.6,87.4 788.9,87.3 789.3,87.2 789.7,87.1 790,87.1 790.5,87 790.9,86.9 791.4,86.8 791.8,86.7 792.3,86.5 792.8,86.4 790.8,79.2 790.4,79.3 790.1,79.4 789.7,79.5 789.3,79.5 788.9,79.6 788.5,79.7 788.1,79.8 787.6,79.9 787.1,80 786.6,80.2 786.1,80.3 785.5,80.5 785,80.7 784.4,80.9 783.8,81.2 783.2,81.5 782.6,81.8 782.1,82.2 781.5,82.6 781,82.9 780.5,83.3 780,83.7 779.6,84.1 779.1,84.5 778.7,84.9 778.2,85.2 777.8,85.6 777.3,86 776.9,86.3 776.4,86.7 775.9,87 775.4,87.4 774.8,87.8 774.1,88.3 773.5,88.7 772.8,89.2 772.2,89.6 771.5,90.1 770.8,90.6 770.1,91 769.4,91.5 768.7,91.9 768,92.3 767.3,92.7 766.7,93.1 766,93.4 765.3,93.7 764.6,94 763.9,94.3 763.1,94.6 762.4,94.8 761.7,95.1 761.1,95.3 760.4,95.5 759.7,95.7 759,95.8 758.2,96 757.4,96.2 756.6,96.3 755.7,96.4 754.8,96.6 753.8,96.7 752.7,96.8 751.5,96.9 750.3,96.9 749,97 747.6,97 746.2,97 744.6,97 743,97 741.4,97 739.7,96.9 738,96.9 736.3,96.8 734.5,96.8 732.8,96.8 731.1,96.7 729.4,96.7 727.7,96.7 726,96.7 724.3,96.7 722.7,96.7 721,96.7 719.4,96.8 717.7,96.8 716.1,96.9 714.5,97 712.8,97 711.2,97.1 709.7,97.1 708.1,97.1 706.6,97.1 705.1,97.1 703.6,97.1 702.2,97 700.7,96.9 699.3,96.7 697.9,96.6 696.4,96.4 694.9,96.1 693.5,95.9 692,95.6 690.6,95.4 689.2,95.1 687.8,94.8 686.4,94.5 685.1,94.1 683.9,93.8 682.7,93.5 681.6,93.1 680.6,92.8 679.7,92.5 679,92.2 678.3,91.9 677.7,91.6 677.2,91.3 676.8,91 676.4,90.6 676,90.3 675.6,89.9 675.2,89.6 674.8,89.1 674.4,88.7 673.9,88.2 673.4,87.7 672.8,87.1 672.2,86.6 671.5,86.1Z"/><circle cx="669.2" cy="89" r="3.8"/><circle cx="791.8" cy="82.8" r="3.8"/></g><g fill="#3f82bf"><path d="M790.8,85.7 791.3,85.8 791.8,86 792.2,86.1 792.7,86.2 793.1,86.3 793.5,86.4 793.9,86.4 794.3,86.5 794.7,86.6 795.1,86.7 795.4,86.8 795.8,86.9 796.1,87 796.4,87.1 796.7,87.3 797,87.4 797.3,87.6 797.7,87.8 798,88 798.3,88.2 798.7,88.5 799.1,88.8 799.5,89.1 799.8,89.4 800.2,89.7 800.7,90.1 801.1,90.4 801.5,90.8 801.9,91.1 802.4,91.5 802.9,91.8 803.3,92.2 803.8,92.5 804.2,92.8 804.6,93.1 805.1,93.4 805.5,93.7 806,94 806.5,94.3 806.9,94.6 807.4,94.9 807.9,95.2 808.4,95.6 808.9,95.9 809.4,96.1 809.9,96.4 810.4,96.7 810.9,97 811.3,97.2 811.8,97.4 812.2,97.7 812.6,97.9 813.1,98.1 813.5,98.3 814,98.5 814.5,98.8 815,99 815.5,99.2 816.1,99.4 816.6,99.5 817.2,99.7 817.9,99.9 818.6,100 819.3,100.2 820,100.3 820.8,100.4 821.6,100.6 822.4,100.7 823.2,100.8 824.1,100.9 824.9,101 825.9,101.1 826.8,101.2 827.8,101.2 828.8,101.3 829.8,101.3 830.9,101.4 832,101.4 833.2,101.4 834.4,101.4 835.7,101.4 836.9,101.4 838.2,101.3 839.5,101.2 840.9,101.1 842.3,101 843.7,100.9 845.1,100.8 846.6,100.7 848.1,100.6 849.7,100.5 851.3,100.4 853,100.3 854.7,100.2 856.4,100.1 858.2,100.1 860.2,100.1 862.3,100 864.6,100 867,100 869.5,100 872.1,100 874.6,100 877.2,100 879.7,100 882.2,100.1 884.6,100.1 886.9,100.1 889,100.1 890.9,100.1 892.6,100.1 894,100.1 895.2,100.1 896.2,100.1 897,100.1 897.6,100.1 898.1,100.1 898.5,100 898.8,100 899,100 899.3,100 899.4,99.9 899.5,99.9 899.5,99.9 899.5,99.9 899.6,99.9 899.8,99.9 900.1,99.9 899.9,96.1 899.6,96.1 899.3,96.1 899.1,96.2 898.9,96.2 898.7,96.2 898.7,96.2 898.7,96.2 898.7,96.2 898.6,96.2 898.4,96.2 898,96.3 897.6,96.3 896.9,96.3 896.2,96.3 895.2,96.3 894,96.3 892.6,96.3 890.9,96.3 889,96.3 886.9,96.3 884.6,96.3 882.2,96.3 879.8,96.2 877.2,96.2 874.6,96.2 872.1,96.2 869.5,96.2 867,96.2 864.6,96.2 862.3,96.2 860.1,96.3 858.2,96.3 856.3,96.4 854.5,96.4 852.8,96.5 851.1,96.6 849.4,96.7 847.9,96.8 846.3,96.9 844.8,97 843.4,97.1 842,97.3 840.6,97.3 839.3,97.4 838,97.5 836.8,97.6 835.6,97.6 834.4,97.6 833.2,97.6 832.1,97.6 831,97.5 830,97.5 829,97.4 828,97.4 827.1,97.3 826.2,97.2 825.4,97.1 824.5,97 823.7,96.9 823,96.8 822.2,96.6 821.5,96.5 820.8,96.4 820.1,96.2 819.5,96.1 818.9,95.9 818.4,95.8 817.9,95.6 817.5,95.4 817,95.3 816.6,95.1 816.3,94.9 815.9,94.7 815.5,94.5 815.2,94.3 814.8,94.1 814.4,93.8 814,93.6 813.6,93.3 813.1,93 812.7,92.8 812.3,92.5 811.9,92.2 811.5,91.9 811.1,91.6 810.7,91.3 810.3,91 809.9,90.6 809.5,90.3 809.1,89.9 808.7,89.6 808.3,89.2 807.9,88.9 807.5,88.5 807.1,88.2 806.7,87.8 806.3,87.5 805.9,87.2 805.6,86.9 805.2,86.5 804.8,86.2 804.4,85.8 804,85.4 803.6,85.1 803.2,84.7 802.8,84.3 802.4,83.9 801.9,83.6 801.5,83.2 801,82.8 800.5,82.5 800,82.2 799.4,81.9 798.9,81.6 798.4,81.4 797.9,81.2 797.4,81 796.9,80.8 796.4,80.6 796,80.5 795.5,80.4 795.1,80.2 794.7,80.1 794.3,80 793.9,79.9 793.5,79.8 793.2,79.6 792.8,79.5Z"/><circle cx="791.8" cy="82.6" r="3.2"/><circle cx="900" cy="98" r="1.9"/></g><g fill="#3f82bf"><path d="M759.9,52.2 760.8,54.6 761.6,57.1 762.4,59.6 763.3,62.2 764.1,64.7 764.9,67.2 765.8,69.8 766.6,72.3 767.5,74.8 768.3,77.3 769.1,79.7 769.9,82.1 770.7,84.5 771.5,86.8 772.2,89 772.9,91.2 773.7,93.3 774.4,95.4 775.2,97.5 775.9,99.5 776.6,101.6 777.3,103.6 778,105.5 778.7,107.4 779.3,109.3 780,111.1 780.6,112.8 781.2,114.4 781.8,116 782.4,117.5 782.9,118.9 783.5,120.2 784,121.4 784.5,122.4 785,123.3 785.4,124.2 785.8,124.9 786.2,125.6 786.6,126.2 787,126.7 787.4,127.2 787.7,127.6 788,128 788.3,128.4 788.6,128.8 788.9,129.2 789.3,129.7 789.6,130.2 794,127.8 793.7,127.2 793.4,126.6 793.1,126 792.8,125.5 792.6,125 792.3,124.6 792.1,124.1 791.9,123.7 791.7,123.2 791.4,122.7 791.2,122.1 790.9,121.5 790.6,120.8 790.3,119.9 789.9,118.9 789.5,117.8 789.1,116.6 788.6,115.2 788.1,113.7 787.6,112.2 787,110.6 786.5,108.8 785.9,107 785.3,105.2 784.7,103.3 784.1,101.3 783.4,99.3 782.8,97.2 782.1,95.2 781.4,93.1 780.7,90.9 780.1,88.8 779.3,86.6 778.6,84.4 777.8,82.1 777,79.8 776.2,77.4 775.4,74.9 774.6,72.4 773.7,69.9 772.9,67.4 772.1,64.9 771.2,62.3 770.4,59.8 769.5,57.3 768.7,54.8 767.9,52.3 767.1,49.8Z"/><circle cx="763.5" cy="51" r="3.8"/><circle cx="791.8" cy="129" r="2.5"/></g><g fill="#3f82bf"><circle cx="791.8" cy="128.5" r="1.6"/><circle cx="793.6" cy="125" r="1.6"/><circle cx="795.4" cy="121.5" r="1.6"/><circle cx="797.1" cy="118" r="1.6"/><circle cx="798.8" cy="114.5" r="1.6"/><circle cx="800.4" cy="110.9" r="1.6"/><circle cx="802" cy="107.3" r="1.6"/><circle cx="803.5" cy="103.7" r="1.6"/><circle cx="804.9" cy="100" r="1.6"/><circle cx="806.2" cy="96.3" r="1.6"/><circle cx="807.4" cy="92.6" r="1.6"/><circle cx="808.6" cy="88.8" r="1.6"/><circle cx="809.7" cy="85.1" r="1.6"/><circle cx="810.8" cy="81.3" r="1.6"/><circle cx="811.8" cy="77.6" r="1.6"/><circle cx="812.9" cy="73.8" r="1.6"/><circle cx="814" cy="70" r="1.6"/><circle cx="815" cy="66.2" r="1.6"/><circle cx="816.1" cy="62.4" r="1.6"/><circle cx="817.1" cy="58.7" r="1.6"/><circle cx="818.2" cy="54.9" r="1.6"/><circle cx="819" cy="52" r="1.6"/></g><g fill="#3f82bf"><path d="M780.5,51.7 780.8,52.2 781.1,52.6 781.4,53.1 781.7,53.6 782.1,54.1 782.4,54.5 782.7,55 783,55.5 783.3,56 783.6,56.5 784,57 784.3,57.5 784.6,57.9 784.9,58.3 785.3,58.8 785.6,59.2 785.9,59.5 786.1,59.8 786.4,60.1 786.7,60.4 787,60.7 787.3,61 787.6,61.3 787.9,61.6 788.3,61.9 788.7,62.2 789.1,62.4 789.5,62.7 790.1,62.9 790.6,63 791.2,63.2 791.8,63.2 792.4,63.2 793,63 793.5,62.9 794.1,62.7 794.5,62.4 794.9,62.2 795.3,61.9 795.7,61.6 796,61.3 796.3,61 796.6,60.7 796.9,60.4 797.2,60.1 797.5,59.8 797.7,59.5 798,59.2 798.4,58.8 798.7,58.3 799,57.9 799.3,57.4 799.6,57 800,56.5 800.3,56 800.6,55.5 800.9,55 801.2,54.5 801.5,54 801.8,53.5 802.1,53.1 802.4,52.6 802.7,52.2 803,51.7 798,48.3 797.7,48.7 797.4,49.2 797,49.7 796.7,50.2 796.4,50.6 796,51.1 795.7,51.6 795.4,52 795.1,52.5 794.8,52.9 794.5,53.3 794.2,53.7 793.9,54 793.6,54.3 793.4,54.6 793.2,54.8 792.9,55.1 792.7,55.3 792.4,55.6 792.2,55.8 792,55.9 791.8,56.1 791.7,56.2 791.6,56.3 791.5,56.3 791.4,56.4 791.4,56.4 791.4,56.3 791.5,56.3 791.5,56.3 791.7,56.2 791.8,56.2 791.9,56.2 792.1,56.3 792.2,56.3 792.2,56.3 792.2,56.4 792.2,56.4 792.1,56.3 792,56.3 791.9,56.2 791.8,56.1 791.6,55.9 791.4,55.8 791.2,55.6 790.9,55.3 790.7,55.1 790.4,54.8 790.2,54.6 789.9,54.3 789.7,54 789.4,53.7 789.1,53.3 788.8,52.9 788.5,52.4 788.2,52 787.8,51.5 787.5,51.1 787.2,50.6 786.8,50.1 786.5,49.7 786.1,49.2 785.8,48.7 785.5,48.3Z"/><circle cx="783" cy="50" r="3"/><circle cx="800.5" cy="50" r="3"/></g><g fill="#3f82bf"><path d="M790.1,149.1 790.3,149.7 790.4,150.2 790.5,150.7 790.6,151.2 790.7,151.6 790.8,152.1 790.9,152.6 791,153 791.1,153.5 791.2,154.1 791.4,154.7 791.5,155.3 791.7,156 791.9,156.9 792.1,157.8 792.4,158.8 792.7,160 793,161.2 793.4,162.6 793.8,164.1 794.2,165.7 794.6,167.3 795.1,169 795.5,170.7 796,172.5 796.5,174.2 797,176 797.4,177.7 797.9,179.4 798.3,181 798.7,182.6 799.2,184 799.6,185.4 800,186.8 800.4,188.1 800.8,189.5 801.2,190.7 801.6,192 802,193.3 802.4,194.5 802.8,195.7 803.1,196.9 803.5,198.1 803.9,199.3 804.3,200.6 804.7,201.8 805.1,203 805.4,204.2 805.8,205.4 806.2,206.5 806.5,207.7 806.8,208.9 807.2,210.1 807.5,211.3 807.8,212.5 808.2,213.7 808.5,215 808.9,216.2 809.3,217.5 809.8,218.7 810.2,220 810.8,221.3 811.3,222.5 811.9,223.8 812.6,225.1 813.3,226.3 814,227.6 814.8,228.8 815.5,230 816.3,231.2 817.1,232.3 817.9,233.5 818.8,234.6 819.6,235.8 820.5,236.9 821.3,238.1 822.1,239.2 823,240.3 823.8,241.4 824.6,242.5 825.4,243.6 826.2,244.8 827,245.9 827.9,247.1 828.7,248.3 829.6,249.5 830.5,250.8 831.4,252 832.3,253.2 833.2,254.4 834.1,255.6 835.1,256.7 836,257.9 837,259 838,260 839,261 840,262 841,262.9 842,263.8 843,264.8 844.1,265.7 845.1,266.5 846.2,267.4 847.3,268.2 848.4,269 849.6,269.8 850.7,270.5 851.9,271.1 853.1,271.7 854.3,272.3 855.6,272.7 856.8,273 858.1,273.3 859.4,273.4 860.6,273.5 861.8,273.5 863.1,273.4 864.3,273.3 865.5,273.1 866.7,272.8 867.9,272.5 869.1,272 870.2,271.6 871.3,271 872.4,270.5 873.5,269.8 874.6,269.1 875.6,268.4 876.6,267.6 877.5,266.8 878.5,265.9 879.4,264.9 880.2,264 881.1,262.9 881.9,261.9 882.8,260.7 883.6,259.6 884.4,258.3 885.1,257 885.9,255.7 886.7,254.3 887.4,252.9 888.1,251.3 888.9,249.7 889.6,248 890.4,246.1 891.1,244.1 891.9,241.9 892.6,239.7 893.3,237.5 894,235.2 894.7,232.9 895.4,230.6 896.1,228.3 896.7,226.1 897.3,224 897.9,221.9 898.5,220.1 899,218.3 899.5,216.8 899.9,215.3 900.3,214 900.7,212.8 901,211.7 901.3,210.6 901.6,209.6 901.9,208.7 902.1,207.9 902.4,207 902.6,206.2 902.8,205.4 903.1,204.7 903.3,203.8 903.5,203 903.8,202.1 904.1,201.2 895.9,198.8 895.6,199.7 895.4,200.6 895.1,201.5 894.9,202.3 894.7,203.1 894.4,203.9 894.2,204.7 894,205.5 893.7,206.4 893.5,207.2 893.2,208.2 892.9,209.2 892.6,210.3 892.2,211.5 891.8,212.8 891.3,214.2 890.8,215.9 890.3,217.7 889.8,219.6 889.2,221.6 888.5,223.7 887.9,225.9 887.3,228.2 886.6,230.4 885.9,232.7 885.2,234.9 884.5,237.1 883.8,239.2 883.1,241.2 882.4,243 881.8,244.7 881.1,246.3 880.5,247.7 879.8,249.1 879.1,250.4 878.5,251.6 877.8,252.7 877.1,253.8 876.5,254.9 875.8,255.8 875.2,256.7 874.5,257.6 873.8,258.4 873.2,259.1 872.5,259.8 871.8,260.5 871.1,261.1 870.4,261.6 869.7,262.1 869,262.6 868.3,263.1 867.5,263.4 866.8,263.8 866,264.1 865.3,264.4 864.5,264.6 863.8,264.8 863.1,264.9 862.3,265 861.6,265 860.9,265 860.2,265 859.4,264.9 858.8,264.8 858.1,264.6 857.4,264.3 856.6,264 855.8,263.6 855,263.2 854.1,262.6 853.2,262 852.3,261.4 851.4,260.7 850.5,260 849.6,259.2 848.6,258.4 847.7,257.5 846.8,256.7 845.9,255.8 845,255 844.1,254.1 843.3,253.2 842.5,252.3 841.6,251.3 840.8,250.2 839.9,249.2 839.1,248.1 838.2,246.9 837.4,245.8 836.5,244.6 835.7,243.4 834.8,242.2 834,241 833.1,239.8 832.3,238.6 831.4,237.5 830.6,236.3 829.7,235.2 828.8,234.1 828,233 827.1,231.9 826.3,230.8 825.4,229.7 824.6,228.6 823.8,227.6 823,226.5 822.3,225.4 821.6,224.4 820.9,223.3 820.2,222.3 819.6,221.2 819.1,220.2 818.5,219.1 818,218.1 817.6,217 817.1,216 816.7,214.9 816.3,213.8 816,212.6 815.6,211.5 815.2,210.3 814.9,209.2 814.5,208 814.1,206.8 813.8,205.6 813.4,204.3 813,203.1 812.6,201.8 812.1,200.6 811.7,199.4 811.3,198.2 810.9,197 810.5,195.8 810.1,194.6 809.7,193.5 809.3,192.2 808.8,191 808.4,189.8 808,188.6 807.6,187.3 807.2,186 806.7,184.7 806.3,183.3 805.8,182 805.4,180.5 804.8,179 804.3,177.4 803.8,175.8 803.2,174.1 802.7,172.4 802.1,170.7 801.5,169 801,167.3 800.4,165.6 799.9,164 799.4,162.4 798.9,161 798.5,159.6 798,158.3 797.6,157.2 797.2,156.2 796.9,155.3 796.6,154.5 796.3,153.8 796,153.1 795.7,152.5 795.5,152 795.3,151.5 795,151.1 794.8,150.7 794.6,150.3 794.4,149.8 794.2,149.4 793.9,149 793.7,148.5 793.5,147.9Z"/><circle cx="791.8" cy="148.5" r="1.8"/><circle cx="900" cy="200" r="4.2"/></g><g fill="#3f82bf"><circle cx="791.8" cy="148.7" r="1.5"/><circle cx="790.5" cy="151.7" r="1.5"/><circle cx="789.2" cy="154.7" r="1.5"/><circle cx="787.9" cy="157.8" r="1.5"/><circle cx="786.5" cy="160.8" r="1.5"/><circle cx="785.2" cy="163.8" r="1.5"/><circle cx="783.9" cy="166.8" r="1.5"/><circle cx="782.7" cy="169.9" r="1.5"/><circle cx="781.4" cy="172.9" r="1.5"/><circle cx="780.1" cy="176" r="1.5"/><circle cx="778.9" cy="179" r="1.5"/><circle cx="777.6" cy="182.1" r="1.5"/><circle cx="776.4" cy="185.1" r="1.5"/><circle cx="775.3" cy="188.2" r="1.5"/><circle cx="774.2" cy="191.3" r="1.5"/><circle cx="773.1" cy="194.4" r="1.5"/><circle cx="772.1" cy="197.6" r="1.5"/><circle cx="771.1" cy="200.7" r="1.5"/><circle cx="770.1" cy="203.8" r="1.5"/><circle cx="769" cy="207" r="1.5"/><circle cx="768" cy="210.1" r="1.5"/><circle cx="766.9" cy="213.2" r="1.5"/><circle cx="765.8" cy="216.3" r="1.5"/><circle cx="764.7" cy="219.4" r="1.5"/><circle cx="763.7" cy="222.5" r="1.5"/><circle cx="762.5" cy="225.6" r="1.5"/><circle cx="761.2" cy="228.7" r="1.5"/><circle cx="759.8" cy="231.6" r="1.5"/><circle cx="758.2" cy="234.5" r="1.5"/><circle cx="756.4" cy="237.3" r="1.5"/><circle cx="754.5" cy="240" r="1.5"/><circle cx="752.6" cy="242.6" r="1.5"/><circle cx="750.6" cy="245.2" r="1.5"/><circle cx="748.5" cy="247.8" r="1.5"/><circle cx="746.4" cy="250.3" r="1.5"/><circle cx="744.3" cy="252.9" r="1.5"/><circle cx="742.1" cy="255.3" r="1.5"/><circle cx="739.8" cy="257.7" r="1.5"/><circle cx="737.4" cy="260" r="1.5"/><circle cx="734.9" cy="262.1" r="1.5"/><circle cx="732.2" cy="263.9" r="1.5"/><circle cx="729.2" cy="265.4" r="1.5"/><circle cx="726.3" cy="266.9" r="1.5"/></g><path d="M668.9,229.3C671.9,227.5 673.7,222.8 677.8,223.8C681.9,224.8 688.3,230.1 693.6,235.3C698.9,240.5 704,249.7 709.4,255C714.8,260.3 720.7,266.9 726.3,266.9C731.9,266.9 737.6,260.3 743,255C748.4,249.7 753.9,240.5 758.9,235.3C763.9,230.1 768.8,224.8 772.7,223.8C776.7,222.8 779.5,225.1 782.6,229.3C785.7,233.5 788.5,242.5 791.5,249.1" fill="none" stroke="#3f82bf" stroke-width="2.2" stroke-linecap="round" stroke-linejoin="round"/><g fill="#3f82bf"><circle cx="668.9" cy="165" r="1.5"/><circle cx="669.8" cy="168.1" r="1.5"/><circle cx="670.7" cy="171.3" r="1.5"/><circle cx="671.6" cy="174.4" r="1.5"/><circle cx="672.5" cy="177.5" r="1.5"/><circle cx="673.5" cy="180.6" r="1.5"/><circle cx="674.6" cy="183.7" r="1.5"/><circle cx="675.9" cy="186.7" r="1.5"/><circle cx="677.3" cy="189.7" r="1.5"/><circle cx="678.6" cy="192.6" r="1.5"/><circle cx="679.8" cy="195.7" r="1.5"/><circle cx="680.9" cy="198.8" r="1.5"/><circle cx="681.8" cy="201.9" r="1.5"/><circle cx="682.8" cy="205" r="1.5"/><circle cx="683.8" cy="208.1" r="1.5"/><circle cx="684.7" cy="211.2" r="1.5"/><circle cx="685.8" cy="214.3" r="1.5"/><circle cx="686.8" cy="217.4" r="1.5"/><circle cx="687.8" cy="220.5" r="1.5"/><circle cx="688.7" cy="223.6" r="1.5"/><circle cx="689.7" cy="226.7" r="1.5"/><circle cx="690.9" cy="229.8" r="1.5"/><circle cx="692.2" cy="232.8" r="1.5"/><circle cx="693.8" cy="235.6" r="1.5"/><circle cx="695.5" cy="238.4" r="1.5"/><circle cx="697.4" cy="241.1" r="1.5"/><circle cx="699.3" cy="243.7" r="1.5"/><circle cx="701.4" cy="246.2" r="1.5"/><circle cx="703.5" cy="248.7" r="1.5"/><circle cx="705.6" cy="251.1" r="1.5"/><circle cx="707.9" cy="253.5" r="1.5"/><circle cx="710.2" cy="255.8" r="1.5"/><circle cx="712.7" cy="257.9" r="1.5"/><circle cx="715.3" cy="259.8" r="1.5"/><circle cx="718.1" cy="261.6" r="1.5"/><circle cx="720.8" cy="263.3" r="1.5"/><circle cx="723.6" cy="265.1" r="1.5"/><circle cx="726.3" cy="266.9" r="1.5"/></g><g fill="#3f82bf"><path d="M793.3,249.9 793.7,249.1 794.1,248.2 794.5,247.4 794.9,246.5 795.3,245.7 795.7,244.8 796,244 796.4,243.2 796.8,242.4 797.2,241.6 797.6,240.8 797.9,240 798.3,239.3 798.7,238.6 799.1,237.9 799.4,237.3 799.8,236.6 800.2,236 800.6,235.3 800.9,234.7 801.3,234.2 801.7,233.6 802,233.1 802.4,232.5 802.8,232 803.1,231.6 803.5,231.1 803.8,230.7 804.2,230.3 804.6,230 804.9,229.7 805.2,229.4 805.6,229.1 805.9,228.8 806.2,228.5 806.6,228.3 807,228 807.3,227.8 807.7,227.6 808.1,227.4 808.4,227.2 808.8,227.1 809.1,227 809.5,226.9 809.8,226.8 810.1,226.7 810.3,226.7 810.5,226.6 810.7,226.6 810.8,226.6 810.9,226.7 811,226.7 811.2,226.7 811.4,226.8 811.6,226.9 811.8,227 812.1,227.2 812.3,227.3 812.6,227.5 812.8,227.7 813.1,227.9 813.4,228.1 813.7,228.3 814,228.5 814.2,228.7 814.3,228.8 814.5,229 814.7,229.2 814.9,229.4 815.1,229.7 815.3,230 815.5,230.2 815.7,230.5 815.9,230.9 816.1,231.2 816.4,231.6 816.6,231.9 816.9,232.3 817.2,232.7 817.4,233 822.6,229 822.3,228.7 822.1,228.4 821.9,228.1 821.7,227.8 821.5,227.5 821.2,227.2 821,226.8 820.7,226.5 820.5,226.1 820.2,225.7 819.9,225.3 819.6,224.9 819.2,224.6 818.8,224.2 818.4,223.8 818,223.5 817.7,223.2 817.4,222.9 817,222.7 816.6,222.4 816.2,222.1 815.8,221.8 815.4,221.6 814.9,221.3 814.4,221 813.9,220.8 813.3,220.6 812.7,220.4 812.1,220.3 811.4,220.2 810.8,220.1 810.1,220.2 809.4,220.2 808.8,220.3 808.2,220.5 807.6,220.6 807,220.8 806.4,221 805.8,221.3 805.3,221.5 804.7,221.8 804.1,222.2 803.5,222.5 802.9,222.9 802.4,223.3 801.8,223.7 801.3,224.2 800.8,224.6 800.3,225.2 799.8,225.7 799.4,226.3 798.9,226.8 798.5,227.4 798.1,228 797.7,228.7 797.4,229.3 797,229.9 796.6,230.6 796.3,231.2 795.9,231.9 795.6,232.6 795.2,233.3 794.9,234 794.6,234.7 794.2,235.5 793.9,236.3 793.6,237.1 793.2,238 792.9,238.8 792.6,239.7 792.3,240.5 792,241.4 791.7,242.3 791.4,243.2 791.1,244.1 790.8,244.9 790.5,245.8 790.2,246.7 789.9,247.5 789.7,248.3Z"/><circle cx="791.5" cy="249.1" r="2"/><circle cx="820" cy="231" r="3.2"/></g><g fill="#3f82bf"><circle cx="791.5" cy="249.1" r="2.4"/><circle cx="789.8" cy="255.8" r="2.5"/><circle cx="788.4" cy="262.5" r="2.7"/><circle cx="787.1" cy="269.3" r="2.8"/><circle cx="785.8" cy="276.1" r="3"/><circle cx="784.4" cy="282.9" r="3.1"/><circle cx="782.8" cy="289.6" r="3.2"/><circle cx="781.2" cy="296.3" r="3.4"/><circle cx="779.5" cy="303" r="3.5"/></g><g fill="#3f82bf"><circle cx="791.5" cy="249.1" r="1.5"/><circle cx="792.9" cy="254.5" r="1.5"/><circle cx="794.2" cy="259.8" r="1.5"/><circle cx="795.6" cy="265.2" r="1.5"/><circle cx="796.9" cy="270.6" r="1.5"/><circle cx="798.2" cy="276" r="1.5"/><circle cx="799.3" cy="281.4" r="1.5"/><circle cx="800.5" cy="286.8" r="1.5"/><circle cx="801.7" cy="292.2" r="1.5"/><circle cx="803.1" cy="297.6" r="1.5"/><circle cx="804.4" cy="303" r="1.5"/></g><g fill="#3f82bf"><circle cx="668.9" cy="278.8" r="2.5"/><circle cx="669.6" cy="284.9" r="2.5"/><circle cx="670.4" cy="290.9" r="2.5"/><circle cx="671.1" cy="296.9" r="2.5"/><circle cx="671.9" cy="303" r="2.5"/></g></g><g clip-path="url(#cp04)"><path d="M1192.4,51C1195.6,59.6 1198.2,69.8 1201.9,76.8C1205.6,83.8 1210.7,89.7 1214.7,93.3C1218.7,96.9 1222.1,98.4 1226.1,98.4C1230.1,98.4 1234.6,96.9 1238.8,93.3C1243,89.7 1247.9,83.8 1251.5,76.8C1255.1,69.8 1257.4,59.6 1260.4,51" fill="none" stroke="#dd2d2d" stroke-width="8.5" stroke-linecap="round" stroke-linejoin="round"/><g fill="#dd2d2d"><path d="M1165.5,107.6 1166,108.2 1166.4,108.7 1166.8,109.3 1167.3,110 1167.7,110.7 1168.3,111.5 1168.8,112.3 1169.4,113.1 1170,114 1170.7,114.8 1171.4,115.7 1172.3,116.5 1173.3,117.3 1174.5,117.9 1175.8,118.5 1177.3,118.8 1178.8,118.8 1180.2,118.6 1181.5,118.3 1182.6,117.8 1183.7,117.3 1184.7,116.7 1185.7,116.1 1186.6,115.5 1187.6,114.9 1188.5,114.3 1189.3,113.7 1190.2,113.2 1191,112.7 1191.9,112.2 1192.7,111.8 1193.5,111.5 1194.4,111.1 1195.5,110.7 1196.6,110.3 1197.8,109.9 1198.9,109.5 1200.1,109.1 1201.3,108.7 1202.5,108.4 1203.8,108 1205,107.6 1206.1,107.3 1207.3,107 1208.5,106.7 1209.6,106.5 1210.6,106.2 1211.6,106 1212.6,105.9 1213.5,105.7 1214.4,105.6 1215.3,105.5 1216.2,105.4 1217,105.4 1217.9,105.3 1218.7,105.3 1219.6,105.3 1220.4,105.3 1221.3,105.3 1222.2,105.3 1223.1,105.3 1224.1,105.4 1225,105.4 1226,105.4 1227,105.4 1228,105.4 1229,105.4 1230,105.5 1231,105.5 1231.9,105.5 1232.9,105.6 1233.9,105.6 1234.8,105.7 1235.8,105.7 1236.7,105.8 1237.7,105.9 1238.7,106.1 1239.7,106.2 1240.7,106.4 1241.7,106.6 1242.7,106.8 1243.8,107.1 1244.9,107.4 1246.1,107.8 1247.3,108.1 1248.5,108.5 1249.8,108.9 1251,109.3 1252.2,109.8 1253.5,110.2 1254.7,110.6 1255.8,111.1 1257,111.5 1258,111.9 1259.1,112.3 1260,112.7 1260.7,113 1261.4,113.3 1262.1,113.7 1262.7,114.1 1263.4,114.5 1264.1,115 1264.8,115.5 1265.5,116 1266.2,116.5 1267,117 1267.9,117.5 1268.8,118 1269.8,118.4 1271,118.7 1272.3,118.8 1273.6,118.8 1274.7,118.6 1275.6,118.3 1276.6,117.9 1277.5,117.5 1278.4,116.9 1279.2,116.4 1280,115.7 1280.7,115 1281.4,114.3 1282.1,113.5 1282.7,112.7 1283.3,111.8 1283.9,110.9 1284.4,109.9 1285,108.9 1285.5,107.8 1286.1,106.6 1286.6,105.3 1287.1,104 1287.6,102.5 1288.1,101 1288.6,99.5 1289,97.9 1289.5,96.3 1289.9,94.7 1290.4,93 1290.8,91.4 1291.2,89.8 1291.6,88.3 1292,86.8 1292.4,85.4 1292.7,84 1293.1,82.7 1293.5,81.4 1293.8,80 1294.1,78.7 1294.5,77.4 1294.8,76.2 1295.1,74.9 1295.4,73.7 1295.7,72.5 1295.9,71.3 1296.2,70.2 1296.5,69.1 1296.8,68 1297,66.9 1297.3,65.9 1297.6,65 1297.9,64.1 1298.1,63.2 1298.4,62.4 1298.7,61.6 1299,60.8 1299.2,60.1 1299.5,59.4 1299.8,58.7 1300.1,58 1300.3,57.4 1300.6,56.7 1300.9,56 1301.2,55.3 1301.4,54.6 1301.7,53.8 1302,53.1 1296.4,50.9 1296.1,51.7 1295.8,52.4 1295.6,53.1 1295.3,53.8 1295,54.4 1294.8,55.1 1294.5,55.8 1294.2,56.5 1293.9,57.2 1293.6,58 1293.3,58.8 1293,59.6 1292.7,60.4 1292.4,61.3 1292.1,62.2 1291.8,63.2 1291.5,64.2 1291.2,65.3 1290.9,66.4 1290.6,67.5 1290.3,68.6 1289.9,69.8 1289.6,71 1289.3,72.2 1289,73.4 1288.7,74.6 1288.3,75.8 1288,77.1 1287.6,78.4 1287.3,79.6 1286.9,80.9 1286.5,82.2 1286,83.5 1285.6,84.9 1285.1,86.4 1284.6,87.9 1284.1,89.5 1283.6,91 1283.1,92.6 1282.6,94.2 1282.1,95.7 1281.5,97.1 1281,98.6 1280.5,99.9 1279.9,101.1 1279.4,102.3 1278.9,103.3 1278.5,104.2 1278,105 1277.5,105.7 1277,106.4 1276.6,107.1 1276.1,107.6 1275.7,108.1 1275.3,108.5 1274.9,108.8 1274.5,109.1 1274.2,109.4 1273.9,109.5 1273.6,109.7 1273.3,109.7 1273,109.8 1272.8,109.8 1272.6,109.8 1272.6,109.8 1272.7,109.8 1272.6,109.8 1272.4,109.7 1272.1,109.6 1271.7,109.3 1271.2,109 1270.6,108.6 1270,108.2 1269.2,107.6 1268.4,107.1 1267.6,106.5 1266.6,105.9 1265.6,105.4 1264.5,104.8 1263.4,104.3 1262.4,103.9 1261.3,103.5 1260.2,103.1 1259,102.6 1257.8,102.2 1256.5,101.7 1255.2,101.3 1253.9,100.8 1252.6,100.4 1251.3,99.9 1250,99.5 1248.6,99.1 1247.3,98.7 1246,98.4 1244.8,98.1 1243.5,97.8 1242.3,97.6 1241.1,97.3 1240,97.2 1238.8,97 1237.7,96.9 1236.6,96.8 1235.5,96.7 1234.4,96.6 1233.3,96.6 1232.2,96.5 1231.2,96.5 1230.2,96.5 1229.2,96.4 1228.2,96.4 1227.2,96.4 1226.2,96.4 1225.2,96.4 1224.3,96.4 1223.3,96.3 1222.4,96.3 1221.4,96.3 1220.4,96.3 1219.5,96.3 1218.5,96.3 1217.5,96.3 1216.5,96.4 1215.5,96.5 1214.4,96.5 1213.4,96.7 1212.3,96.8 1211.1,97 1210,97.2 1208.8,97.4 1207.6,97.7 1206.3,98 1205.1,98.3 1203.8,98.6 1202.5,99 1201.2,99.4 1199.9,99.8 1198.6,100.2 1197.3,100.6 1196.1,101 1194.8,101.4 1193.6,101.8 1192.4,102.3 1191.3,102.7 1190.1,103.1 1188.9,103.6 1187.7,104.2 1186.5,104.9 1185.5,105.5 1184.4,106.2 1183.5,106.8 1182.6,107.4 1181.7,108 1180.9,108.5 1180.2,108.9 1179.5,109.3 1179,109.6 1178.6,109.7 1178.3,109.8 1178.3,109.8 1178.3,109.8 1178.4,109.8 1178.4,109.9 1178.3,109.8 1178.1,109.6 1177.9,109.4 1177.5,109 1177.1,108.5 1176.7,107.9 1176.2,107.3 1175.8,106.6 1175.3,105.8 1174.7,105 1174.2,104.2 1173.6,103.3 1172.9,102.5 1172.3,101.8Z"/><circle cx="1168.9" cy="104.7" r="4.5"/><circle cx="1299.2" cy="52" r="3"/></g><g fill="#dd2d2d"><path d="M1336.3,52.8 1336.6,53.9 1336.9,55.1 1337.2,56.2 1337.5,57.3 1337.8,58.4 1338.1,59.5 1338.4,60.6 1338.7,61.8 1339,62.9 1339.3,64 1339.6,65.2 1339.9,66.3 1340.2,67.5 1340.5,68.7 1340.8,70 1341.2,71.3 1341.5,72.6 1341.8,73.9 1342.2,75.3 1342.5,76.8 1342.8,78.2 1343.2,79.7 1343.5,81.2 1343.9,82.8 1344.3,84.3 1344.6,85.8 1345,87.3 1345.4,88.8 1345.8,90.3 1346.2,91.7 1346.6,93.2 1347.1,94.5 1347.5,95.8 1347.9,97.2 1348.4,98.5 1348.8,99.8 1349.3,101.1 1349.8,102.5 1350.3,103.7 1350.8,105 1351.3,106.2 1351.8,107.4 1352.3,108.5 1352.7,109.6 1353.2,110.7 1353.7,111.7 1354.2,112.6 1354.7,113.4 1355.2,114.2 1355.7,114.9 1356.2,115.5 1356.7,116.1 1357.3,116.7 1357.9,117.2 1358.6,117.7 1359.4,118.2 1360.2,118.5 1361.1,118.7 1361.9,118.9 1362.6,118.9 1363.3,118.9 1364,118.9 1364.6,118.8 1365.4,118.7 1366.2,118.6 1367.2,118.3 1368,117.9 1368.9,117.6 1369.6,117.2 1370.4,116.8 1371.1,116.4 1371.8,115.9 1372.5,115.5 1373.3,115.1 1374,114.6 1374.7,114.2 1375.5,113.8 1376.2,113.4 1377,113 1377.8,112.6 1378.8,112.2 1379.8,111.8 1380.8,111.3 1381.9,110.9 1383.1,110.4 1384.3,110 1385.5,109.5 1386.7,109 1388,108.5 1389.2,108 1390.5,107.5 1391.8,107 1393,106.5 1394.3,106.1 1395.5,105.6 1396.8,105.1 1393.4,96.7 1392.2,97.2 1391,97.7 1389.8,98.2 1388.5,98.6 1387.2,99.1 1386,99.6 1384.7,100.1 1383.4,100.6 1382.2,101.1 1380.9,101.6 1379.7,102.1 1378.5,102.6 1377.4,103 1376.3,103.5 1375.2,103.9 1374.2,104.4 1373.1,104.9 1372.1,105.4 1371.2,105.9 1370.3,106.4 1369.4,106.9 1368.6,107.3 1367.9,107.8 1367.2,108.2 1366.5,108.6 1365.9,108.9 1365.4,109.2 1365,109.5 1364.6,109.6 1364.3,109.8 1364.1,109.8 1363.8,109.9 1363.5,109.9 1363.1,110 1362.9,110 1362.8,110 1362.7,110.1 1362.8,110.1 1362.9,110.1 1363,110.2 1363.1,110.3 1363.2,110.3 1363.1,110.3 1363,110.2 1362.8,110 1362.5,109.7 1362.2,109.3 1361.9,108.8 1361.5,108.2 1361,107.6 1360.6,106.8 1360.1,106 1359.6,105 1359.2,104 1358.6,103 1358.1,101.9 1357.6,100.7 1357.1,99.5 1356.6,98.3 1356.1,97.1 1355.6,95.8 1355.1,94.6 1354.6,93.3 1354.1,92.1 1353.7,90.8 1353.3,89.6 1352.8,88.2 1352.4,86.8 1352,85.4 1351.5,84 1351.1,82.5 1350.7,81 1350.3,79.5 1349.8,78 1349.4,76.6 1349,75.1 1348.6,73.6 1348.2,72.2 1347.8,70.9 1347.4,69.5 1347.1,68.3 1346.7,67 1346.4,65.8 1346,64.6 1345.7,63.5 1345.3,62.3 1345,61.2 1344.7,60.1 1344.4,59 1344,57.9 1343.7,56.8 1343.4,55.7 1343.1,54.6 1342.8,53.5 1342.4,52.3 1342.1,51.2Z"/><circle cx="1339.2" cy="52" r="3"/><circle cx="1395.1" cy="100.9" r="4.5"/></g><path d="M1378.6,51C1381.4,58 1384.2,65.4 1387,72C1389.8,78.6 1392.9,86.1 1395.1,90.8C1397.3,95.5 1398.4,96.9 1400,100" fill="none" stroke="#dd2d2d" stroke-width="8.5" stroke-linecap="round" stroke-linejoin="round"/><path d="M1283.1,305C1285,300 1286.3,294.4 1288.8,290C1291.2,285.6 1294.4,280.9 1297.5,278.8C1300.6,276.6 1303.8,277.2 1307.5,276.9C1311.2,276.6 1315.2,276.9 1319.4,276.9C1323.6,276.9 1328.9,276.4 1332.5,276.9C1336.1,277.4 1338.5,277.8 1341.2,280C1344,282.2 1346.5,285.8 1348.8,290C1351,294.2 1352.9,300 1355,305" fill="none" stroke="#dd2d2d" stroke-width="6.5" stroke-linecap="round" stroke-linejoin="round"/></g><g clip-path="url(#cp05)"><g fill="#3f82bf"><path d="M1421,104.3 1421.6,102.8 1422.1,101.4 1422.7,99.9 1423.3,98.4 1423.8,97 1424.4,95.5 1424.9,94 1425.5,92.6 1426.1,91.1 1426.6,89.6 1427.2,88.2 1427.8,86.7 1428.3,85.2 1428.9,83.8 1429.5,82.3 1430.1,80.8 1430.7,79.4 1431.3,77.9 1431.9,76.5 1432.6,75 1433.2,73.5 1433.8,72.1 1434.5,70.6 1435.1,69.1 1435.8,67.7 1436.4,66.2 1437.1,64.7 1437.7,63.3 1438.4,61.8 1439,60.3 1439.7,58.8 1440.3,57.4 1435.7,55.4 1435.1,56.9 1434.5,58.4 1433.9,59.9 1433.2,61.3 1432.6,62.8 1432,64.3 1431.4,65.8 1430.8,67.3 1430.1,68.8 1429.5,70.2 1428.9,71.7 1428.3,73.2 1427.7,74.7 1427.1,76.2 1426.5,77.7 1425.9,79.2 1425.3,80.6 1424.7,82.1 1424.1,83.6 1423.6,85.1 1423,86.5 1422.4,88 1421.9,89.5 1421.3,91 1420.7,92.4 1420.2,93.9 1419.6,95.4 1419.1,96.8 1418.5,98.3 1417.9,99.8 1417.4,101.2 1416.8,102.7Z"/><circle cx="1418.9" cy="103.5" r="2.2"/><circle cx="1438" cy="56.4" r="2.5"/></g><path d="M1438,56.4C1441.4,61.1 1444.3,65.1 1448.1,70.4C1451.9,75.7 1456.1,83.5 1460.8,88.2C1465.5,92.9 1471,98.4 1476.1,98.4C1481.2,98.4 1486.7,92.9 1491.4,88.2C1496.1,83.5 1500.5,75.7 1504.1,70.4C1507.7,65.1 1510,61.1 1513,56.4" fill="none" stroke="#3f82bf" stroke-width="8.5" stroke-linecap="round" stroke-linejoin="round"/><g fill="#3f82bf"><path d="M1510.7,57.3 1511.2,58.8 1511.8,60.2 1512.4,61.7 1513,63.2 1513.6,64.6 1514.1,66.1 1514.7,67.6 1515.3,69.1 1515.9,70.5 1516.5,72 1517,73.5 1517.6,74.9 1518.2,76.4 1518.8,77.9 1519.3,79.3 1519.9,80.8 1520.5,82.3 1521,83.7 1521.6,85.2 1522.2,86.6 1522.7,88 1523.3,89.5 1523.8,90.9 1524.4,92.3 1525,93.8 1525.5,95.2 1526,96.7 1526.6,98.1 1527.1,99.6 1527.7,101.1 1528.2,102.6 1528.7,104.2 1529.2,105.7 1529.7,107.3 1530.2,109 1530.7,110.6 1531.2,112.3 1531.7,114 1532.2,115.8 1532.7,117.5 1533.2,119.2 1533.7,120.9 1534.1,122.6 1534.6,124.3 1535.1,125.9 1535.6,127.5 1536.1,129.1 1536.6,130.6 1537.1,132 1537.6,133.4 1538.1,134.8 1538.5,136.1 1539,137.4 1539.5,138.7 1539.9,140 1540.4,141.2 1540.9,142.4 1541.4,143.6 1541.9,144.8 1542.4,146 1542.9,147.2 1543.4,148.4 1544,149.5 1544.6,150.7 1545.1,151.8 1545.7,153 1546.3,154.2 1546.9,155.3 1547.5,156.5 1548.1,157.7 1548.7,158.8 1549.3,159.9 1550,161 1550.6,162.1 1551.3,163.2 1552,164.2 1552.7,165.2 1553.4,166.2 1554.2,167.1 1555,167.9 1555.7,168.8 1556.6,169.6 1557.4,170.4 1558.2,171.2 1559.1,172 1560,172.7 1560.9,173.4 1561.9,174.1 1562.8,174.7 1563.8,175.3 1564.7,175.8 1565.7,176.3 1566.7,176.6 1567.7,176.9 1568.7,177 1569.7,177.1 1570.7,177 1571.7,176.9 1572.7,176.6 1573.6,176.3 1574.6,175.8 1575.5,175.3 1576.5,174.7 1577.4,174.1 1578.3,173.4 1579.2,172.7 1580,172 1580.9,171.2 1581.7,170.4 1582.5,169.6 1583.3,168.8 1584,167.9 1584.8,167.1 1585.6,166.2 1586.3,165.2 1587,164.2 1587.7,163.2 1588.4,162.1 1589,161 1589.7,159.9 1590.3,158.8 1590.9,157.7 1591.5,156.5 1592.1,155.3 1592.7,154.2 1593.3,153 1593.9,151.8 1594.4,150.7 1595,149.5 1595.6,148.4 1596.1,147.2 1596.6,146 1597.1,144.8 1597.6,143.6 1598.1,142.4 1598.6,141.2 1599.1,140 1599.6,138.7 1600.1,137.4 1600.5,136.1 1601,134.8 1601.5,133.4 1602,132 1602.5,130.6 1603,129.1 1603.5,127.5 1604,125.9 1604.5,124.3 1605,122.6 1605.5,120.9 1606,119.2 1606.5,117.5 1607,115.8 1607.5,114.1 1608,112.3 1608.5,110.6 1609,109 1609.5,107.3 1610,105.7 1610.5,104.1 1611,102.6 1611.5,101.1 1612.1,99.6 1612.6,98.1 1613.1,96.7 1613.6,95.2 1614.2,93.8 1614.7,92.3 1615.3,90.9 1615.8,89.5 1616.3,88 1616.9,86.6 1617.4,85.2 1618,83.7 1618.6,82.2 1619.1,80.8 1619.7,79.3 1620.2,77.9 1620.8,76.4 1621.4,74.9 1622,73.5 1622.5,72 1623.1,70.5 1623.7,69.1 1624.3,67.6 1624.8,66.1 1625.4,64.6 1626,63.2 1626.6,61.7 1627.2,60.2 1627.8,58.8 1628.3,57.3 1623.7,55.5 1623.1,57 1622.6,58.5 1622,59.9 1621.5,61.4 1620.9,62.9 1620.4,64.4 1619.8,65.9 1619.3,67.4 1618.7,68.8 1618.1,70.3 1617.6,71.8 1617.1,73.3 1616.5,74.8 1616,76.3 1615.4,77.7 1614.9,79.2 1614.4,80.7 1613.8,82.1 1613.3,83.6 1612.8,85 1612.2,86.5 1611.7,87.9 1611.2,89.4 1610.6,90.8 1610.1,92.3 1609.6,93.7 1609.1,95.2 1608.5,96.7 1608,98.2 1607.5,99.7 1607,101.3 1606.5,102.9 1606,104.5 1605.5,106.1 1605,107.8 1604.5,109.5 1604,111.2 1603.6,113 1603.1,114.7 1602.6,116.4 1602.2,118.2 1601.7,119.9 1601.2,121.6 1600.8,123.2 1600.3,124.8 1599.8,126.4 1599.4,127.9 1598.9,129.4 1598.4,130.8 1598,132.2 1597.5,133.6 1597.1,134.9 1596.7,136.2 1596.2,137.5 1595.8,138.7 1595.4,140 1594.9,141.2 1594.5,142.4 1594,143.5 1593.5,144.7 1593.1,145.9 1592.6,147 1592.1,148.2 1591.6,149.3 1591,150.5 1590.5,151.6 1589.9,152.8 1589.4,154 1588.8,155.1 1588.2,156.2 1587.6,157.4 1587,158.5 1586.4,159.5 1585.8,160.6 1585.2,161.6 1584.6,162.6 1583.9,163.5 1583.3,164.4 1582.6,165.3 1582,166.1 1581.2,166.9 1580.5,167.6 1579.7,168.4 1579,169.2 1578.2,169.9 1577.4,170.6 1576.6,171.3 1575.8,171.9 1575,172.5 1574.2,173 1573.4,173.4 1572.6,173.8 1571.9,174.1 1571.1,174.3 1570.4,174.5 1569.7,174.5 1569,174.5 1568.3,174.3 1567.5,174.1 1566.7,173.8 1565.9,173.4 1565.1,173 1564.3,172.5 1563.4,171.9 1562.6,171.3 1561.7,170.6 1560.9,169.9 1560.1,169.2 1559.3,168.4 1558.5,167.6 1557.8,166.8 1557,166.1 1556.3,165.3 1555.7,164.4 1555,163.5 1554.4,162.6 1553.8,161.6 1553.1,160.6 1552.5,159.5 1551.9,158.5 1551.3,157.4 1550.8,156.3 1550.2,155.1 1549.6,154 1549.1,152.8 1548.5,151.6 1548,150.5 1547.4,149.3 1546.9,148.2 1546.4,147 1545.9,145.9 1545.5,144.7 1545,143.6 1544.6,142.4 1544.1,141.2 1543.7,140 1543.3,138.8 1542.8,137.5 1542.4,136.2 1542,134.9 1541.5,133.6 1541.1,132.2 1540.7,130.8 1540.2,129.4 1539.7,127.9 1539.3,126.4 1538.8,124.8 1538.4,123.2 1537.9,121.6 1537.5,119.9 1537,118.2 1536.5,116.4 1536.1,114.7 1535.6,113 1535.1,111.2 1534.7,109.5 1534.2,107.8 1533.7,106.1 1533.2,104.5 1532.7,102.8 1532.2,101.3 1531.7,99.7 1531.1,98.2 1530.6,96.7 1530.1,95.2 1529.5,93.7 1529,92.3 1528.5,90.8 1527.9,89.3 1527.4,87.9 1526.8,86.5 1526.3,85 1525.7,83.6 1525.2,82.1 1524.6,80.7 1524.1,79.2 1523.6,77.7 1523,76.2 1522.5,74.8 1521.9,73.3 1521.4,71.8 1520.8,70.3 1520.3,68.8 1519.7,67.4 1519.2,65.9 1518.6,64.4 1518.1,62.9 1517.5,61.4 1517,59.9 1516.4,58.5 1515.9,57 1515.3,55.5Z"/><circle cx="1513" cy="56.4" r="2.5"/><circle cx="1626" cy="56.4" r="2.5"/></g><path d="M1418.9,106C1422.3,108.8 1425.3,113.8 1429,114.3C1432.7,114.8 1435.8,111 1441,109C1446.2,107 1454.2,103.5 1460,102C1465.8,100.5 1470.8,100.3 1476.1,100.3C1481.4,100.3 1486.2,100.5 1492,102C1497.8,103.5 1505.8,107 1511,109C1516.2,111 1519.9,114.5 1523.1,114.3C1526.3,114.1 1527.8,112 1530,108C1532.2,104 1533.8,96.3 1536,90C1538.2,83.7 1540.7,76.5 1543,70C1545.3,63.5 1547.5,57.3 1549.8,51" fill="none" stroke="#3f82bf" stroke-width="8.5" stroke-linecap="round" stroke-linejoin="round"/><path d="M1589.2,52C1591.1,58.7 1593,65.3 1595,72C1597,78.7 1599,86.3 1601,92C1603,97.7 1604.7,102.3 1607,106C1609.3,109.7 1611.4,113.8 1614.6,114.3C1617.8,114.8 1620.9,111.7 1626,109C1631.1,106.3 1641.1,100.6 1645.1,98.4C1649.1,96.2 1648.4,96.8 1650,96" fill="none" stroke="#3f82bf" stroke-width="8.5" stroke-linecap="round" stroke-linejoin="round"/><path d="M1626,56.4C1629.3,61.6 1632.8,66.5 1636,72C1639.2,77.5 1642.8,85.3 1645.1,89.5C1647.4,93.7 1648.4,94.5 1650,97" fill="none" stroke="#3f82bf" stroke-width="8.5" stroke-linecap="round" stroke-linejoin="round"/><path d="M1418.9,233C1421.9,230.9 1424.3,226.8 1427.8,226.6C1431.3,226.4 1435.5,228.4 1440,232C1444.5,235.6 1450.7,243.2 1455,248C1459.3,252.8 1462.5,257.8 1466,261C1469.5,264.2 1472.8,267.3 1476.1,267.3C1479.4,267.3 1482.5,264.2 1486,261C1489.5,257.8 1492.7,252.8 1497,248C1501.3,243.2 1507.6,235.6 1512,232C1516.4,228.4 1519.5,226.6 1523.2,226.6C1526.9,226.6 1529.9,227.6 1534,232C1538.1,236.4 1544.1,247.3 1548,253C1551.9,258.7 1553.9,262.8 1557.5,266C1561.1,269.2 1565.6,272.4 1569.7,272.4C1573.8,272.4 1578.5,269.2 1582,266C1585.5,262.8 1587.2,258.7 1591,253C1594.8,247.3 1600.8,236.4 1605,232C1609.2,227.6 1612.3,226.6 1616,226.6C1619.7,226.6 1622.1,226.9 1627,232C1631.9,237.1 1639.1,248.8 1645.2,257.2" fill="none" stroke="#3f82bf" stroke-width="2.6" stroke-linecap="round" stroke-linejoin="round"/><path d="M1532.1,305C1533.7,300 1535,294.2 1537,290C1539,285.8 1541.4,282.4 1544,280C1546.6,277.6 1548.1,276.2 1552.4,275.5C1556.7,274.8 1563.9,275.5 1569.7,275.5C1575.5,275.5 1582.8,274.8 1587,275.5C1591.2,276.2 1592.5,277.6 1595,280C1597.5,282.4 1600,285.8 1602,290C1604,294.2 1605.4,300 1607.1,305" fill="none" stroke="#3f82bf" stroke-width="8.5" stroke-linecap="round" stroke-linejoin="round"/></g><g clip-path="url(#cp11)"><path d="M426.5,328C431.6,335.3 436.5,343.2 441.8,349.8C447.1,356.4 452.7,363.6 458.3,367.6C463.9,371.6 469.8,373.7 475.5,373.9C481.2,374.1 487,372.2 492.6,368.8C498.2,365.4 503.8,360.4 509.1,353.6C514.4,346.8 519.3,336.5 524.4,328" fill="none" stroke="#dd2d2d" stroke-width="7" stroke-linecap="round" stroke-linejoin="round"/><path d="M418.3,361.2C421.9,363.7 424.1,366.6 429.1,368.8C434.1,371 440.4,373.2 448.1,374.6C455.8,376 466.6,377 475.5,377.1C484.4,377.2 493.4,376.8 501.5,375.2C509.6,373.6 518.5,370.8 524.4,367.6C530.3,364.4 532.5,362.7 537.1,356.1C541.8,349.5 547.2,337.4 552.3,328" fill="none" stroke="#dd2d2d" stroke-width="7" stroke-linecap="round" stroke-linejoin="round"/></g><g clip-path="url(#cp12)"><path d="M676.5,328C681.6,334.8 686.1,342.1 691.8,348.5C697.5,354.9 705.1,362.7 710.8,366.3C716.5,369.9 720.5,370.1 725.8,370.1C731.1,370.1 736.6,370.1 742.6,366.3C748.6,362.5 756.4,353.6 761.7,347.2C767,340.8 770.2,334.4 774.4,328" fill="none" stroke="#3f82bf" stroke-width="8" stroke-linecap="round" stroke-linejoin="round"/><g fill="#3f82bf"><path d="M666.4,367.3 667.5,367.9 668.5,368.4 669.5,369 670.5,369.6 671.6,370.2 672.6,370.8 673.7,371.5 674.7,372.1 675.8,372.7 677,373.3 678.1,373.9 679.2,374.5 680.4,375 681.6,375.6 682.9,376 684.1,376.5 685.4,376.9 686.6,377.2 687.9,377.6 689.1,377.9 690.4,378.1 691.6,378.4 692.9,378.6 694.1,378.8 695.4,378.9 696.6,379.1 697.9,379.2 699.1,379.4 700.4,379.5 701.7,379.6 702.9,379.7 704.2,379.8 705.5,379.9 706.9,379.9 708.2,380 709.6,380 710.9,380 712.3,380 713.6,380 715,380 716.3,380 717.7,379.9 719,379.9 720.4,379.9 721.7,379.8 723.1,379.8 724.4,379.8 725.8,379.8 727.2,379.8 728.6,379.8 730,379.9 731.5,379.9 732.9,379.9 734.4,380 735.9,380 737.5,380.1 739,380.1 740.5,380.1 742,380.1 743.5,380.1 745,380.1 746.5,380 748,379.9 749.4,379.8 750.8,379.6 752.2,379.4 753.5,379.2 754.9,379 756.2,378.7 757.5,378.4 758.8,378.2 760,377.8 761.3,377.5 762.5,377.2 763.7,376.8 764.9,376.5 766,376.1 767.2,375.7 768.3,375.3 769.3,374.9 770.4,374.4 771.5,374 772.5,373.4 773.5,372.9 774.4,372.4 775.2,371.8 776.1,371.2 776.9,370.7 777.6,370.1 778.4,369.6 779.1,369.1 779.8,368.6 780.4,368.1 781.1,367.7 781.7,367.3 782.4,366.9 783.1,366.5 783.8,366.1 784.5,365.7 785.2,365.3 785.9,364.9 786.6,364.5 787.3,364.2 788,363.8 788.7,363.5 789.4,363.1 790.1,362.7 790.8,362.4 791.5,362 792.2,361.7 792.9,361.3 793.7,360.9 790.7,355.1 790,355.4 789.3,355.8 788.6,356.1 787.9,356.4 787.2,356.8 786.5,357.1 785.8,357.4 785,357.8 784.3,358.1 783.6,358.4 782.8,358.8 782.1,359.2 781.3,359.5 780.6,359.9 779.8,360.3 779,360.7 778.2,361.2 777.3,361.7 776.5,362.2 775.7,362.7 775,363.2 774.2,363.7 773.5,364.2 772.8,364.7 772.1,365.2 771.3,365.6 770.6,366.1 769.8,366.5 769.1,366.9 768.3,367.2 767.5,367.6 766.7,367.9 765.7,368.2 764.7,368.6 763.7,368.9 762.7,369.2 761.6,369.5 760.5,369.8 759.4,370 758.3,370.3 757.1,370.6 755.9,370.8 754.7,371 753.5,371.2 752.3,371.4 751.1,371.6 749.8,371.7 748.6,371.8 747.4,371.9 746.1,372 744.7,372.1 743.4,372.1 742,372.1 740.6,372.1 739.1,372.1 737.6,372.1 736.2,372 734.7,372 733.2,371.9 731.7,371.9 730.2,371.9 728.7,371.8 727.2,371.8 725.8,371.8 724.4,371.8 723,371.8 721.6,371.8 720.2,371.9 718.8,371.9 717.5,371.9 716.1,372 714.8,372 713.5,372 712.2,372 710.9,372 709.7,372 708.4,372 707.2,372 706,371.9 704.8,371.8 703.6,371.7 702.3,371.6 701.1,371.5 699.9,371.4 698.7,371.3 697.6,371.1 696.4,371 695.3,370.8 694.1,370.7 693,370.5 691.9,370.3 690.9,370.1 689.8,369.8 688.7,369.5 687.7,369.2 686.7,368.9 685.7,368.6 684.7,368.2 683.7,367.7 682.7,367.3 681.7,366.8 680.7,366.3 679.7,365.7 678.7,365.1 677.7,364.5 676.6,363.9 675.6,363.3 674.5,362.7 673.5,362.1 672.4,361.5 671.3,360.9 670.2,360.3Z"/><circle cx="668.3" cy="363.8" r="4"/><circle cx="792.2" cy="358" r="3.2"/></g><g fill="#3f82bf"><path d="M790.7,360.9 791.6,361.3 792.5,361.8 793.4,362.2 794.3,362.6 795.2,363 796.1,363.5 797,363.9 797.9,364.3 798.8,364.7 799.7,365.1 800.5,365.6 801.4,366 802.3,366.4 803.1,366.8 804,367.2 804.8,367.6 805.6,368 806.3,368.5 807,368.9 807.7,369.3 808.4,369.8 809.2,370.2 809.9,370.7 810.7,371.2 811.5,371.7 812.3,372.2 813.2,372.6 814.1,373.1 815,373.5 816,373.9 817,374.3 818.1,374.6 819.2,374.9 820.3,375.2 821.5,375.4 822.7,375.7 823.9,375.9 825.1,376.1 826.4,376.2 827.6,376.4 828.9,376.5 830.2,376.6 831.5,376.7 832.7,376.8 834,376.9 835.3,377 836.5,377 837.8,377.1 839.1,377.1 840.3,377.2 841.6,377.2 842.9,377.1 844.2,377.1 845.4,377 846.7,376.9 847.9,376.9 849.2,376.8 850.4,376.7 851.7,376.6 852.9,376.6 854.1,376.5 855.3,376.4 856.4,376.4 857.6,376.4 858.8,376.4 859.9,376.4 861,376.5 862.2,376.5 863.3,376.5 864.5,376.6 865.6,376.7 866.7,376.7 867.9,376.8 869,376.9 870.2,376.9 871.4,377 872.5,377 873.7,377 874.9,377 876.1,377 877.3,377 878.5,376.9 879.7,376.8 881,376.8 882.2,376.7 883.4,376.6 884.6,376.5 885.8,376.4 887,376.3 888.1,376.2 889.3,376.1 890.5,376 891.7,375.8 892.9,375.7 894.1,375.6 895.3,375.5 894.9,371.1 893.7,371.1 892.5,371.2 891.3,371.3 890.1,371.4 889,371.5 887.8,371.6 886.6,371.7 885.4,371.8 884.2,371.8 883,371.9 881.8,372 880.7,372.1 879.5,372.1 878.4,372.2 877.2,372.2 876.1,372.2 874.9,372.2 873.8,372.2 872.7,372.2 871.6,372.1 870.4,372.1 869.3,372 868.2,371.9 867,371.8 865.9,371.8 864.7,371.7 863.6,371.6 862.4,371.6 861.2,371.5 860,371.4 858.8,371.4 857.6,371.4 856.4,371.4 855.1,371.4 853.9,371.5 852.6,371.6 851.4,371.6 850.1,371.7 848.9,371.8 847.6,371.9 846.4,372 845.2,372 843.9,372.1 842.7,372.1 841.5,372.2 840.3,372.2 839.2,372.1 838,372.1 836.8,372 835.6,371.9 834.4,371.8 833.2,371.7 831.9,371.6 830.7,371.5 829.5,371.3 828.3,371.2 827.1,371 825.9,370.8 824.8,370.6 823.7,370.4 822.6,370.2 821.6,369.9 820.6,369.6 819.7,369.4 818.9,369.1 818.1,368.8 817.3,368.4 816.6,368 815.9,367.7 815.2,367.2 814.5,366.8 813.8,366.4 813.1,365.9 812.4,365.4 811.7,364.9 810.9,364.4 810.1,363.9 809.3,363.4 808.5,362.8 807.6,362.4 806.7,361.9 805.9,361.4 805,361 804.2,360.5 803.3,360.1 802.4,359.6 801.5,359.2 800.7,358.7 799.8,358.2 798.9,357.8 798,357.3 797.1,356.9 796.3,356.4 795.4,356 794.5,355.5 793.7,355.1Z"/><circle cx="792.2" cy="358" r="3.2"/><circle cx="895.1" cy="373.3" r="2.2"/></g><path d="M782,326C783.7,328.3 785.3,331.4 787,333C788.7,334.6 790.5,335.8 792.2,335.8C793.9,335.8 795.6,334.6 797.3,333C799,331.4 800.6,328.3 802.3,326" fill="none" stroke="#3f82bf" stroke-width="7" stroke-linecap="round" stroke-linejoin="round"/><path d="M808.7,328C814.2,336.1 819.3,345.5 825.2,352.3C831.1,359.1 838.9,365.3 844.3,368.8C849.7,372.3 853.4,373.1 857.6,373.3C861.8,373.5 865.6,372.5 869.7,370.1C873.8,367.7 878.2,363.1 882.4,358.7C886.6,354.2 890.9,348.5 895.1,343.4" fill="none" stroke="#3f82bf" stroke-width="3.8" stroke-linecap="round" stroke-linejoin="round"/></g><g clip-path="url(#cp14)"><path d="M1166.4,429.9 L1169.4,426.4 L1172.4,422.7 L1175.4,418.9 L1178.4,415.1 L1181.4,411.2 L1184.4,407.4 L1187.4,403.6 L1190.4,399.9 L1193.4,396.3 L1196.4,393 L1199.4,389.8 L1202.4,386.9 L1205.4,384.2 L1208.4,381.8 L1211.4,379.8 L1214.4,378.1 L1217.4,376.7 L1220.4,375.7 L1223.4,375.1 L1226.4,374.9 L1229.4,375.1 L1232.4,375.6 L1235.4,376.6 L1238.4,377.9 L1241.4,379.5 L1244.4,381.5 L1247.4,383.9 L1250.4,386.5 L1253.4,389.4 L1256.4,392.5 L1259.4,395.9 L1262.4,399.4 L1265.4,403.1 L1268.4,406.8 L1271.4,410.7 L1274.4,414.5 L1277.4,418.4 L1280.4,422.2 L1283.4,425.9 L1286.4,429.5 L1289.4,432.9 L1292.4,436.1 L1295.4,439.1 L1298.4,441.8 L1301.4,444.2 L1304.4,446.3 L1307.4,448.1 L1310.4,449.5 L1313.4,450.6 L1316.4,451.3 L1319.4,451.6 L1322.4,451.5 L1325.4,451 L1328.4,450.2 L1331.4,448.9 L1334.4,447.3 L1337.4,445.4 L1340.4,443.1 L1343.4,440.5 L1346.4,437.7 L1349.4,434.6 L1352.4,431.3 L1355.4,427.8 L1358.4,424.2 L1361.4,420.4 L1364.4,416.6 L1367.4,412.7 L1370.4,408.9 L1373.4,405.1 L1376.4,401.4 L1379.4,397.7 L1382.4,394.3 L1385.4,391 L1388.4,388 L1391.4,385.2 L1394.4,382.7 L1397.4,380.6" fill="none" stroke="#dd2d2d" stroke-width="9"/></g><g clip-path="url(#cp15)"><path d="M1416.5,429.9 L1419.5,426.4 L1422.5,422.7 L1425.5,418.9 L1428.5,415.1 L1431.5,411.2 L1434.5,407.4 L1437.5,403.6 L1440.5,399.9 L1443.5,396.3 L1446.5,393 L1449.5,389.8 L1452.5,386.9 L1455.5,384.2 L1458.5,381.8 L1461.5,379.8 L1464.5,378.1 L1467.5,376.7 L1470.5,375.7 L1473.5,375.1 L1476.5,374.9 L1479.5,375.1 L1482.5,375.6 L1485.5,376.6 L1488.5,377.9 L1491.5,379.5 L1494.5,381.5 L1497.5,383.9 L1500.5,386.5 L1503.5,389.4 L1506.5,392.5 L1509.5,395.9 L1512.5,399.4 L1515.5,403.1 L1518.5,406.8 L1521.5,410.7 L1524.5,414.5 L1527.5,418.4 L1530.5,422.2 L1533.5,425.9 L1536.5,429.5 L1539.5,432.9 L1542.5,436.1 L1545.5,439.1 L1548.5,441.8 L1551.5,444.2 L1554.5,446.3 L1557.5,448.1 L1560.5,449.5 L1563.5,450.6 L1566.5,451.3 L1569.5,451.6 L1572.5,451.5 L1575.5,451 L1578.5,450.2 L1581.5,448.9 L1584.5,447.3 L1587.5,445.4 L1590.5,443.1 L1593.5,440.5 L1596.5,437.7 L1599.5,434.6 L1602.5,431.3 L1605.5,427.8 L1608.5,424.2 L1611.5,420.4 L1614.5,416.6 L1617.5,412.7 L1620.5,408.9 L1623.5,405.1 L1626.5,401.4 L1629.5,397.7 L1632.5,394.3 L1635.5,391 L1638.5,388 L1641.5,385.2 L1644.5,382.7 L1647.5,380.6" fill="none" stroke="#3f82bf" stroke-width="9.5"/><path d="M1452,521.8C1453.3,523.8 1454.7,526 1456,527.8C1457.3,529.6 1458.7,531.2 1460,532.7C1461.3,534.2 1462.7,535.4 1464,536.5C1465.3,537.6 1466.7,538.6 1468,539.3C1469.3,540 1470.7,540.6 1472,541C1473.3,541.4 1474.7,541.6 1476,541.6C1477.3,541.6 1478.7,541.5 1480,541.1C1481.3,540.8 1482.7,540.3 1484,539.6C1485.3,538.9 1486.7,538.1 1488,537C1489.3,536 1490.7,534.7 1492,533.3C1493.3,531.9 1494.7,530.4 1496,528.6C1497.3,526.8 1498.7,524.7 1500,522.8" fill="none" stroke="#3f82bf" stroke-width="2.6" stroke-linecap="round" stroke-linejoin="round"/><g fill="#3f82bf"><circle cx="1418" cy="427.7" r="1.4"/><circle cx="1418.8" cy="430.8" r="1.4"/><circle cx="1419.6" cy="433.9" r="1.4"/><circle cx="1420.4" cy="437" r="1.4"/><circle cx="1421.2" cy="440" r="1.4"/><circle cx="1422.1" cy="443.1" r="1.4"/><circle cx="1422.9" cy="446.1" r="1.4"/><circle cx="1423.8" cy="449.2" r="1.4"/><circle cx="1424.7" cy="452.2" r="1.4"/><circle cx="1425.5" cy="455.3" r="1.4"/><circle cx="1426.4" cy="458.3" r="1.4"/><circle cx="1427.4" cy="461.4" r="1.4"/><circle cx="1428.3" cy="464.4" r="1.4"/><circle cx="1429.2" cy="467.4" r="1.4"/><circle cx="1430.2" cy="470.5" r="1.4"/><circle cx="1431.2" cy="473.5" r="1.4"/><circle cx="1432.2" cy="476.5" r="1.4"/><circle cx="1433.2" cy="479.5" r="1.4"/><circle cx="1434.3" cy="482.5" r="1.4"/><circle cx="1435.4" cy="485.5" r="1.4"/><circle cx="1436.5" cy="488.5" r="1.4"/><circle cx="1437.6" cy="491.4" r="1.4"/><circle cx="1438.8" cy="494.4" r="1.4"/><circle cx="1439.9" cy="497.3" r="1.4"/><circle cx="1441.2" cy="500.2" r="1.4"/><circle cx="1442.4" cy="503.2" r="1.4"/><circle cx="1443.7" cy="506.1" r="1.4"/><circle cx="1445.1" cy="508.9" r="1.4"/><circle cx="1446.5" cy="511.8" r="1.4"/><circle cx="1447.9" cy="514.6" r="1.4"/><circle cx="1449.4" cy="517.4" r="1.4"/><circle cx="1451" cy="520.2" r="1.4"/></g><g fill="#3f82bf"><circle cx="1500" cy="522.8" r="1.4"/><circle cx="1501.9" cy="519.7" r="1.5"/><circle cx="1503.7" cy="516.5" r="1.5"/><circle cx="1505.4" cy="513.3" r="1.5"/><circle cx="1507" cy="510.1" r="1.5"/><circle cx="1508.5" cy="506.8" r="1.5"/><circle cx="1510" cy="503.5" r="1.5"/><circle cx="1511.5" cy="500.2" r="1.5"/><circle cx="1512.8" cy="496.8" r="1.5"/><circle cx="1514.2" cy="493.5" r="1.5"/><circle cx="1515.5" cy="490.1" r="1.5"/><circle cx="1516.8" cy="486.7" r="1.5"/><circle cx="1518" cy="483.3" r="1.5"/><circle cx="1519.2" cy="479.9" r="1.5"/><circle cx="1520.4" cy="476.5" r="1.5"/><circle cx="1521.5" cy="473" r="1.5"/><circle cx="1522.7" cy="469.6" r="1.5"/><circle cx="1523.8" cy="466.1" r="1.6"/><circle cx="1524.8" cy="462.7" r="1.6"/><circle cx="1525.9" cy="459.2" r="1.6"/><circle cx="1526.9" cy="455.7" r="1.6"/><circle cx="1527.9" cy="452.3" r="1.6"/><circle cx="1528.9" cy="448.8" r="1.6"/><circle cx="1529.9" cy="445.3" r="1.6"/><circle cx="1530.9" cy="441.8" r="1.6"/><circle cx="1531.8" cy="438.3" r="1.6"/><circle cx="1532.8" cy="434.8" r="1.6"/><circle cx="1533.7" cy="431.3" r="1.6"/><circle cx="1534.6" cy="427.8" r="1.6"/><circle cx="1535.5" cy="424.3" r="1.6"/><circle cx="1536.4" cy="420.8" r="1.6"/><circle cx="1537.2" cy="417.3" r="1.6"/><circle cx="1538.1" cy="413.7" r="1.6"/><circle cx="1538.9" cy="410.2" r="1.6"/><circle cx="1539.8" cy="406.7" r="1.7"/><circle cx="1540.6" cy="403.2" r="1.7"/><circle cx="1541.4" cy="399.6" r="1.7"/><circle cx="1542.2" cy="396.1" r="1.7"/><circle cx="1543" cy="392.6" r="1.7"/><circle cx="1543.8" cy="389" r="1.7"/><circle cx="1544.6" cy="385.5" r="1.7"/><circle cx="1545.3" cy="381.9" r="1.7"/><circle cx="1546.1" cy="378.4" r="1.7"/><circle cx="1546.8" cy="374.9" r="1.7"/><circle cx="1547.6" cy="371.3" r="1.7"/><circle cx="1548.3" cy="367.8" r="1.7"/><circle cx="1549.1" cy="364.2" r="1.7"/><circle cx="1549.8" cy="360.7" r="1.7"/><circle cx="1550.5" cy="357.1" r="1.7"/><circle cx="1551.2" cy="353.6" r="1.7"/><circle cx="1551.9" cy="350" r="1.7"/><circle cx="1552.6" cy="346.5" r="1.8"/><circle cx="1553.3" cy="342.9" r="1.8"/><circle cx="1554" cy="339.4" r="1.8"/><circle cx="1554.7" cy="335.8" r="1.8"/><circle cx="1555.4" cy="332.2" r="1.8"/><circle cx="1556" cy="328.7" r="1.8"/><circle cx="1556.7" cy="325.1" r="1.8"/><circle cx="1557.3" cy="321.6" r="1.8"/><circle cx="1558" cy="318" r="1.8"/></g><g fill="#3f82bf"><circle cx="1580" cy="310.3" r="1.8"/><circle cx="1580.6" cy="313.8" r="1.8"/><circle cx="1581.3" cy="317.4" r="1.8"/><circle cx="1581.9" cy="321" r="1.8"/><circle cx="1582.6" cy="324.5" r="1.8"/><circle cx="1583.3" cy="328.1" r="1.8"/><circle cx="1583.9" cy="331.7" r="1.8"/><circle cx="1584.6" cy="335.2" r="1.8"/><circle cx="1585.3" cy="338.8" r="1.8"/><circle cx="1586" cy="342.3" r="1.8"/><circle cx="1586.7" cy="345.9" r="1.7"/><circle cx="1587.4" cy="349.5" r="1.7"/><circle cx="1588.1" cy="353" r="1.7"/><circle cx="1588.8" cy="356.6" r="1.7"/><circle cx="1589.5" cy="360.1" r="1.7"/><circle cx="1590.2" cy="363.7" r="1.7"/><circle cx="1591" cy="367.2" r="1.7"/><circle cx="1591.7" cy="370.8" r="1.7"/><circle cx="1592.4" cy="374.3" r="1.7"/><circle cx="1593.2" cy="377.9" r="1.7"/><circle cx="1594" cy="381.4" r="1.7"/><circle cx="1594.7" cy="385" r="1.7"/><circle cx="1595.5" cy="388.5" r="1.7"/><circle cx="1596.3" cy="392.1" r="1.7"/><circle cx="1597.1" cy="395.6" r="1.7"/><circle cx="1597.9" cy="399.1" r="1.7"/><circle cx="1598.7" cy="402.7" r="1.7"/><circle cx="1599.5" cy="406.2" r="1.7"/><circle cx="1600.4" cy="409.7" r="1.6"/><circle cx="1601.2" cy="413.2" r="1.6"/><circle cx="1602.1" cy="416.8" r="1.6"/><circle cx="1602.9" cy="420.3" r="1.6"/><circle cx="1603.8" cy="423.8" r="1.6"/><circle cx="1604.7" cy="427.3" r="1.6"/><circle cx="1605.6" cy="430.8" r="1.6"/><circle cx="1606.5" cy="434.3" r="1.6"/><circle cx="1607.4" cy="437.9" r="1.6"/><circle cx="1608.4" cy="441.4" r="1.6"/><circle cx="1609.4" cy="444.8" r="1.6"/><circle cx="1610.3" cy="448.3" r="1.6"/><circle cx="1611.3" cy="451.8" r="1.6"/><circle cx="1612.3" cy="455.3" r="1.6"/><circle cx="1613.4" cy="458.8" r="1.6"/><circle cx="1614.4" cy="462.3" r="1.6"/><circle cx="1615.5" cy="465.7" r="1.6"/><circle cx="1616.6" cy="469.2" r="1.6"/><circle cx="1617.7" cy="472.6" r="1.6"/><circle cx="1618.9" cy="476.1" r="1.5"/><circle cx="1620" cy="479.5" r="1.5"/><circle cx="1621.2" cy="482.9" r="1.5"/><circle cx="1622.5" cy="486.3" r="1.5"/><circle cx="1623.7" cy="489.7" r="1.5"/><circle cx="1625.1" cy="493.1" r="1.5"/><circle cx="1626.4" cy="496.5" r="1.5"/><circle cx="1627.8" cy="499.8" r="1.5"/><circle cx="1629.2" cy="503.2" r="1.5"/><circle cx="1630.7" cy="506.5" r="1.5"/><circle cx="1632.3" cy="509.7" r="1.5"/><circle cx="1633.9" cy="513" r="1.5"/><circle cx="1635.6" cy="516.2" r="1.5"/><circle cx="1637.3" cy="519.4" r="1.5"/><circle cx="1639.2" cy="522.5" r="1.5"/><circle cx="1641.2" cy="525.5" r="1.5"/><circle cx="1643.3" cy="528.5" r="1.5"/><circle cx="1645.6" cy="531.3" r="1.5"/><circle cx="1648" cy="534" r="1.4"/></g></g><g clip-path="url(#cpo)"><g fill="#3f82bf"><circle cx="1752.6" cy="87.9" r="5.8"/><circle cx="1763.5" cy="107" r="6"/><circle cx="1774.5" cy="127" r="6"/><circle cx="1785.4" cy="147" r="6"/><circle cx="1796" cy="167" r="6"/><circle cx="1807.2" cy="187.6" r="6"/><circle cx="1818.2" cy="208" r="6"/><circle cx="1829.2" cy="229.2" r="6"/><circle cx="1839.9" cy="249.5" r="6"/><circle cx="1850.9" cy="270.7" r="6"/><circle cx="1861.9" cy="290.5" r="6"/><circle cx="1872.7" cy="310.2" r="6"/><circle cx="1884" cy="328.3" r="6"/><circle cx="1894.9" cy="343.6" r="6"/><circle cx="1905.7" cy="353.3" r="5.5"/><circle cx="1916.8" cy="353.3" r="5.5"/><circle cx="1927.6" cy="343.6" r="4.5"/><circle cx="1938.7" cy="328.3" r="4"/><circle cx="1949.6" cy="310.2" r="3.5"/><circle cx="1960.6" cy="290.7" r="3.2"/><circle cx="1971.6" cy="270.5" r="3"/><circle cx="1982.7" cy="249.8" r="3"/><circle cx="1993.3" cy="229.6" r="3"/><circle cx="1752.6" cy="227.5" r="6"/><circle cx="1763.3" cy="224.4" r="6"/><circle cx="1774.3" cy="221.2" r="6"/><circle cx="1785.3" cy="217.6" r="6"/><circle cx="1796.2" cy="214.4" r="6"/><circle cx="1807.2" cy="210.5" r="6"/><circle cx="1829.2" cy="202" r="6"/><circle cx="1839.9" cy="197" r="6"/><circle cx="1850.9" cy="192.2" r="6"/><circle cx="1861.9" cy="187.6" r="5.5"/><circle cx="1872.1" cy="183.4" r="5.5"/><circle cx="1884.1" cy="178.7" r="5.5"/><circle cx="1894.7" cy="175.3" r="5.2"/><circle cx="1905.8" cy="173.8" r="5"/><circle cx="1916.8" cy="174.3" r="5"/><circle cx="1927.9" cy="176.7" r="4.8"/><circle cx="1938.9" cy="179.6" r="4.5"/><circle cx="1949.5" cy="183" r="4.3"/><circle cx="1960.6" cy="187.8" r="4"/><circle cx="1971.6" cy="192.6" r="3.8"/><circle cx="1982.7" cy="196.9" r="3.6"/><circle cx="1993.3" cy="202.2" r="3.5"/><circle cx="1861.7" cy="54.3" r="5"/><circle cx="1872.7" cy="62.7" r="4.2"/><circle cx="1883.7" cy="69.9" r="3.8"/><circle cx="1894.6" cy="75.6" r="4.7"/><circle cx="1905.6" cy="78.5" r="5.1"/><circle cx="1916.4" cy="78.5" r="5.1"/><circle cx="1927.8" cy="75.6" r="4.9"/><circle cx="1938.8" cy="69.9" r="5.3"/><circle cx="1949.7" cy="62.7" r="5.7"/><circle cx="1960.5" cy="54.3" r="6"/><circle cx="1818.3" cy="576.2" r="2.5"/><circle cx="1829.3" cy="558" r="3"/><circle cx="1839.8" cy="538.8" r="3"/><circle cx="1850.9" cy="519.7" r="3.2"/><circle cx="1862.1" cy="501.1" r="3.5"/><circle cx="1873" cy="482.5" r="3.8"/><circle cx="1883.8" cy="465" r="4.2"/><circle cx="1894.5" cy="450.4" r="4.5"/><circle cx="1905.9" cy="440.5" r="5"/><circle cx="1916.8" cy="440.5" r="5.2"/><circle cx="1927.8" cy="450.4" r="5.8"/><circle cx="1938.7" cy="465" r="6"/><circle cx="1949.6" cy="482.5" r="6.2"/><circle cx="1960.6" cy="501.1" r="6.3"/><circle cx="1971.5" cy="519.7" r="6.3"/><circle cx="1982.5" cy="538.8" r="6.3"/><circle cx="1992.3" cy="558" r="6.3"/></g></g><g stroke="#000" fill="none"><line x1="153.2" y1="63.3" x2="168" y2="63.3" stroke-width="3.2"/><line x1="159" y1="89.9" x2="168" y2="89.9" stroke-width="2.8"/><line x1="159" y1="116.6" x2="168" y2="116.6" stroke-width="2.8"/><line x1="159" y1="143.2" x2="168" y2="143.2" stroke-width="2.8"/><line x1="153.2" y1="169.9" x2="168" y2="169.9" stroke-width="3.2"/><line x1="159" y1="196.6" x2="168" y2="196.6" stroke-width="2.8"/><line x1="159" y1="223.2" x2="168" y2="223.2" stroke-width="2.8"/><line x1="159" y1="249.8" x2="168" y2="249.8" stroke-width="2.8"/><line x1="153.2" y1="276.5" x2="168" y2="276.5" stroke-width="3.2"/><line x1="159" y1="303.1" x2="168" y2="303.1" stroke-width="2.8"/><line x1="177.1" y1="303" x2="177.1" y2="312" stroke-width="2.8"/><line x1="189.2" y1="303" x2="189.2" y2="312" stroke-width="2.8"/><line x1="201.4" y1="303" x2="201.4" y2="312" stroke-width="2.8"/><line x1="213.5" y1="303" x2="213.5" y2="312" stroke-width="2.8"/><line x1="225.6" y1="303" x2="225.6" y2="317.8" stroke-width="3.2"/><line x1="237.7" y1="303" x2="237.7" y2="312" stroke-width="2.8"/><line x1="249.8" y1="303" x2="249.8" y2="312" stroke-width="2.8"/><line x1="262" y1="303" x2="262" y2="312" stroke-width="2.8"/><line x1="274.1" y1="303" x2="274.1" y2="312" stroke-width="2.8"/><line x1="286.2" y1="303" x2="286.2" y2="317.8" stroke-width="3.2"/><line x1="298.3" y1="303" x2="298.3" y2="312" stroke-width="2.8"/><line x1="310.4" y1="303" x2="310.4" y2="312" stroke-width="2.8"/><line x1="322.6" y1="303" x2="322.6" y2="312" stroke-width="2.8"/><line x1="334.7" y1="303" x2="334.7" y2="312" stroke-width="2.8"/><line x1="346.8" y1="303" x2="346.8" y2="317.8" stroke-width="3.2"/><line x1="358.9" y1="303" x2="358.9" y2="312" stroke-width="2.8"/><line x1="371" y1="303" x2="371" y2="312" stroke-width="2.8"/><line x1="383.2" y1="303" x2="383.2" y2="312" stroke-width="2.8"/><line x1="395.3" y1="303" x2="395.3" y2="312" stroke-width="2.8"/><line x1="403.3" y1="63.3" x2="418.1" y2="63.3" stroke-width="3.2"/><line x1="409.1" y1="89.9" x2="418.1" y2="89.9" stroke-width="2.8"/><line x1="409.1" y1="116.6" x2="418.1" y2="116.6" stroke-width="2.8"/><line x1="409.1" y1="143.2" x2="418.1" y2="143.2" stroke-width="2.8"/><line x1="403.3" y1="169.9" x2="418.1" y2="169.9" stroke-width="3.2"/><line x1="409.1" y1="196.6" x2="418.1" y2="196.6" stroke-width="2.8"/><line x1="409.1" y1="223.2" x2="418.1" y2="223.2" stroke-width="2.8"/><line x1="409.1" y1="249.8" x2="418.1" y2="249.8" stroke-width="2.8"/><line x1="403.3" y1="276.5" x2="418.1" y2="276.5" stroke-width="3.2"/><line x1="409.1" y1="303.1" x2="418.1" y2="303.1" stroke-width="2.8"/><line x1="653.4" y1="63.3" x2="668.2" y2="63.3" stroke-width="3.2"/><line x1="659.2" y1="89.9" x2="668.2" y2="89.9" stroke-width="2.8"/><line x1="659.2" y1="116.6" x2="668.2" y2="116.6" stroke-width="2.8"/><line x1="659.2" y1="143.2" x2="668.2" y2="143.2" stroke-width="2.8"/><line x1="653.4" y1="169.9" x2="668.2" y2="169.9" stroke-width="3.2"/><line x1="659.2" y1="196.6" x2="668.2" y2="196.6" stroke-width="2.8"/><line x1="659.2" y1="223.2" x2="668.2" y2="223.2" stroke-width="2.8"/><line x1="659.2" y1="249.8" x2="668.2" y2="249.8" stroke-width="2.8"/><line x1="653.4" y1="276.5" x2="668.2" y2="276.5" stroke-width="3.2"/><line x1="659.2" y1="303.1" x2="668.2" y2="303.1" stroke-width="2.8"/><line x1="903.5" y1="63.3" x2="918.3" y2="63.3" stroke-width="3.2"/><line x1="909.3" y1="89.9" x2="918.3" y2="89.9" stroke-width="2.8"/><line x1="909.3" y1="116.6" x2="918.3" y2="116.6" stroke-width="2.8"/><line x1="909.3" y1="143.2" x2="918.3" y2="143.2" stroke-width="2.8"/><line x1="903.5" y1="169.9" x2="918.3" y2="169.9" stroke-width="3.2"/><line x1="909.3" y1="196.6" x2="918.3" y2="196.6" stroke-width="2.8"/><line x1="909.3" y1="223.2" x2="918.3" y2="223.2" stroke-width="2.8"/><line x1="909.3" y1="249.8" x2="918.3" y2="249.8" stroke-width="2.8"/><line x1="903.5" y1="276.5" x2="918.3" y2="276.5" stroke-width="3.2"/><line x1="909.3" y1="303.1" x2="918.3" y2="303.1" stroke-width="2.8"/><line x1="927.4" y1="303" x2="927.4" y2="312" stroke-width="2.8"/><line x1="939.5" y1="303" x2="939.5" y2="312" stroke-width="2.8"/><line x1="951.7" y1="303" x2="951.7" y2="312" stroke-width="2.8"/><line x1="963.8" y1="303" x2="963.8" y2="312" stroke-width="2.8"/><line x1="975.9" y1="303" x2="975.9" y2="317.8" stroke-width="3.2"/><line x1="988" y1="303" x2="988" y2="312" stroke-width="2.8"/><line x1="1000.1" y1="303" x2="1000.1" y2="312" stroke-width="2.8"/><line x1="1012.3" y1="303" x2="1012.3" y2="312" stroke-width="2.8"/><line x1="1024.4" y1="303" x2="1024.4" y2="312" stroke-width="2.8"/><line x1="1036.5" y1="303" x2="1036.5" y2="317.8" stroke-width="3.2"/><line x1="1048.6" y1="303" x2="1048.6" y2="312" stroke-width="2.8"/><line x1="1060.7" y1="303" x2="1060.7" y2="312" stroke-width="2.8"/><line x1="1072.9" y1="303" x2="1072.9" y2="312" stroke-width="2.8"/><line x1="1085" y1="303" x2="1085" y2="312" stroke-width="2.8"/><line x1="1097.1" y1="303" x2="1097.1" y2="317.8" stroke-width="3.2"/><line x1="1109.2" y1="303" x2="1109.2" y2="312" stroke-width="2.8"/><line x1="1121.3" y1="303" x2="1121.3" y2="312" stroke-width="2.8"/><line x1="1133.5" y1="303" x2="1133.5" y2="312" stroke-width="2.8"/><line x1="1145.6" y1="303" x2="1145.6" y2="312" stroke-width="2.8"/><line x1="1153.6" y1="63.3" x2="1168.4" y2="63.3" stroke-width="3.2"/><line x1="1159.4" y1="89.9" x2="1168.4" y2="89.9" stroke-width="2.8"/><line x1="1159.4" y1="116.6" x2="1168.4" y2="116.6" stroke-width="2.8"/><line x1="1159.4" y1="143.2" x2="1168.4" y2="143.2" stroke-width="2.8"/><line x1="1153.6" y1="169.9" x2="1168.4" y2="169.9" stroke-width="3.2"/><line x1="1159.4" y1="196.6" x2="1168.4" y2="196.6" stroke-width="2.8"/><line x1="1159.4" y1="223.2" x2="1168.4" y2="223.2" stroke-width="2.8"/><line x1="1159.4" y1="249.8" x2="1168.4" y2="249.8" stroke-width="2.8"/><line x1="1153.6" y1="276.5" x2="1168.4" y2="276.5" stroke-width="3.2"/><line x1="1159.4" y1="303.1" x2="1168.4" y2="303.1" stroke-width="2.8"/><line x1="1403.7" y1="63.3" x2="1418.5" y2="63.3" stroke-width="3.2"/><line x1="1409.5" y1="89.9" x2="1418.5" y2="89.9" stroke-width="2.8"/><line x1="1409.5" y1="116.6" x2="1418.5" y2="116.6" stroke-width="2.8"/><line x1="1409.5" y1="143.2" x2="1418.5" y2="143.2" stroke-width="2.8"/><line x1="1403.7" y1="169.9" x2="1418.5" y2="169.9" stroke-width="3.2"/><line x1="1409.5" y1="196.6" x2="1418.5" y2="196.6" stroke-width="2.8"/><line x1="1409.5" y1="223.2" x2="1418.5" y2="223.2" stroke-width="2.8"/><line x1="1409.5" y1="249.8" x2="1418.5" y2="249.8" stroke-width="2.8"/><line x1="1403.7" y1="276.5" x2="1418.5" y2="276.5" stroke-width="3.2"/><line x1="1409.5" y1="303.1" x2="1418.5" y2="303.1" stroke-width="2.8"/><line x1="153.2" y1="338.3" x2="168" y2="338.3" stroke-width="3.2"/><line x1="159" y1="364.9" x2="168" y2="364.9" stroke-width="2.8"/><line x1="159" y1="391.6" x2="168" y2="391.6" stroke-width="2.8"/><line x1="159" y1="418.2" x2="168" y2="418.2" stroke-width="2.8"/><line x1="153.2" y1="444.9" x2="168" y2="444.9" stroke-width="3.2"/><line x1="159" y1="471.6" x2="168" y2="471.6" stroke-width="2.8"/><line x1="159" y1="498.2" x2="168" y2="498.2" stroke-width="2.8"/><line x1="159" y1="524.9" x2="168" y2="524.9" stroke-width="2.8"/><line x1="153.2" y1="551.5" x2="168" y2="551.5" stroke-width="3.2"/><line x1="159" y1="578.1" x2="168" y2="578.1" stroke-width="2.8"/><line x1="177.1" y1="578" x2="177.1" y2="587" stroke-width="2.8"/><line x1="189.2" y1="578" x2="189.2" y2="587" stroke-width="2.8"/><line x1="201.4" y1="578" x2="201.4" y2="587" stroke-width="2.8"/><line x1="213.5" y1="578" x2="213.5" y2="587" stroke-width="2.8"/><line x1="225.6" y1="578" x2="225.6" y2="592.8" stroke-width="3.2"/><line x1="237.7" y1="578" x2="237.7" y2="587" stroke-width="2.8"/><line x1="249.8" y1="578" x2="249.8" y2="587" stroke-width="2.8"/><line x1="262" y1="578" x2="262" y2="587" stroke-width="2.8"/><line x1="274.1" y1="578" x2="274.1" y2="587" stroke-width="2.8"/><line x1="286.2" y1="578" x2="286.2" y2="592.8" stroke-width="3.2"/><line x1="298.3" y1="578" x2="298.3" y2="587" stroke-width="2.8"/><line x1="310.4" y1="578" x2="310.4" y2="587" stroke-width="2.8"/><line x1="322.6" y1="578" x2="322.6" y2="587" stroke-width="2.8"/><line x1="334.7" y1="578" x2="334.7" y2="587" stroke-width="2.8"/><line x1="346.8" y1="578" x2="346.8" y2="592.8" stroke-width="3.2"/><line x1="358.9" y1="578" x2="358.9" y2="587" stroke-width="2.8"/><line x1="371" y1="578" x2="371" y2="587" stroke-width="2.8"/><line x1="383.2" y1="578" x2="383.2" y2="587" stroke-width="2.8"/><line x1="395.3" y1="578" x2="395.3" y2="587" stroke-width="2.8"/><line x1="403.3" y1="338.3" x2="418.1" y2="338.3" stroke-width="3.2"/><line x1="409.1" y1="364.9" x2="418.1" y2="364.9" stroke-width="2.8"/><line x1="409.1" y1="391.6" x2="418.1" y2="391.6" stroke-width="2.8"/><line x1="409.1" y1="418.2" x2="418.1" y2="418.2" stroke-width="2.8"/><line x1="403.3" y1="444.9" x2="418.1" y2="444.9" stroke-width="3.2"/><line x1="409.1" y1="471.6" x2="418.1" y2="471.6" stroke-width="2.8"/><line x1="409.1" y1="498.2" x2="418.1" y2="498.2" stroke-width="2.8"/><line x1="409.1" y1="524.9" x2="418.1" y2="524.9" stroke-width="2.8"/><line x1="403.3" y1="551.5" x2="418.1" y2="551.5" stroke-width="3.2"/><line x1="409.1" y1="578.1" x2="418.1" y2="578.1" stroke-width="2.8"/><line x1="653.4" y1="338.3" x2="668.2" y2="338.3" stroke-width="3.2"/><line x1="659.2" y1="364.9" x2="668.2" y2="364.9" stroke-width="2.8"/><line x1="659.2" y1="391.6" x2="668.2" y2="391.6" stroke-width="2.8"/><line x1="659.2" y1="418.2" x2="668.2" y2="418.2" stroke-width="2.8"/><line x1="653.4" y1="444.9" x2="668.2" y2="444.9" stroke-width="3.2"/><line x1="659.2" y1="471.6" x2="668.2" y2="471.6" stroke-width="2.8"/><line x1="659.2" y1="498.2" x2="668.2" y2="498.2" stroke-width="2.8"/><line x1="659.2" y1="524.9" x2="668.2" y2="524.9" stroke-width="2.8"/><line x1="653.4" y1="551.5" x2="668.2" y2="551.5" stroke-width="3.2"/><line x1="659.2" y1="578.1" x2="668.2" y2="578.1" stroke-width="2.8"/><line x1="903.5" y1="338.3" x2="918.3" y2="338.3" stroke-width="3.2"/><line x1="909.3" y1="364.9" x2="918.3" y2="364.9" stroke-width="2.8"/><line x1="909.3" y1="391.6" x2="918.3" y2="391.6" stroke-width="2.8"/><line x1="909.3" y1="418.2" x2="918.3" y2="418.2" stroke-width="2.8"/><line x1="903.5" y1="444.9" x2="918.3" y2="444.9" stroke-width="3.2"/><line x1="909.3" y1="471.6" x2="918.3" y2="471.6" stroke-width="2.8"/><line x1="909.3" y1="498.2" x2="918.3" y2="498.2" stroke-width="2.8"/><line x1="909.3" y1="524.9" x2="918.3" y2="524.9" stroke-width="2.8"/><line x1="903.5" y1="551.5" x2="918.3" y2="551.5" stroke-width="3.2"/><line x1="909.3" y1="578.1" x2="918.3" y2="578.1" stroke-width="2.8"/><line x1="927.4" y1="578" x2="927.4" y2="587" stroke-width="2.8"/><line x1="939.5" y1="578" x2="939.5" y2="587" stroke-width="2.8"/><line x1="951.7" y1="578" x2="951.7" y2="587" stroke-width="2.8"/><line x1="963.8" y1="578" x2="963.8" y2="587" stroke-width="2.8"/><line x1="975.9" y1="578" x2="975.9" y2="592.8" stroke-width="3.2"/><line x1="988" y1="578" x2="988" y2="587" stroke-width="2.8"/><line x1="1000.1" y1="578" x2="1000.1" y2="587" stroke-width="2.8"/><line x1="1012.3" y1="578" x2="1012.3" y2="587" stroke-width="2.8"/><line x1="1024.4" y1="578" x2="1024.4" y2="587" stroke-width="2.8"/><line x1="1036.5" y1="578" x2="1036.5" y2="592.8" stroke-width="3.2"/><line x1="1048.6" y1="578" x2="1048.6" y2="587" stroke-width="2.8"/><line x1="1060.7" y1="578" x2="1060.7" y2="587" stroke-width="2.8"/><line x1="1072.9" y1="578" x2="1072.9" y2="587" stroke-width="2.8"/><line x1="1085" y1="578" x2="1085" y2="587" stroke-width="2.8"/><line x1="1097.1" y1="578" x2="1097.1" y2="592.8" stroke-width="3.2"/><line x1="1109.2" y1="578" x2="1109.2" y2="587" stroke-width="2.8"/><line x1="1121.3" y1="578" x2="1121.3" y2="587" stroke-width="2.8"/><line x1="1133.5" y1="578" x2="1133.5" y2="587" stroke-width="2.8"/><line x1="1145.6" y1="578" x2="1145.6" y2="587" stroke-width="2.8"/><line x1="1153.6" y1="338.3" x2="1168.4" y2="338.3" stroke-width="3.2"/><line x1="1159.4" y1="364.9" x2="1168.4" y2="364.9" stroke-width="2.8"/><line x1="1159.4" y1="391.6" x2="1168.4" y2="391.6" stroke-width="2.8"/><line x1="1159.4" y1="418.2" x2="1168.4" y2="418.2" stroke-width="2.8"/><line x1="1153.6" y1="444.9" x2="1168.4" y2="444.9" stroke-width="3.2"/><line x1="1159.4" y1="471.6" x2="1168.4" y2="471.6" stroke-width="2.8"/><line x1="1159.4" y1="498.2" x2="1168.4" y2="498.2" stroke-width="2.8"/><line x1="1159.4" y1="524.9" x2="1168.4" y2="524.9" stroke-width="2.8"/><line x1="1153.6" y1="551.5" x2="1168.4" y2="551.5" stroke-width="3.2"/><line x1="1159.4" y1="578.1" x2="1168.4" y2="578.1" stroke-width="2.8"/><line x1="1403.7" y1="338.3" x2="1418.5" y2="338.3" stroke-width="3.2"/><line x1="1409.5" y1="364.9" x2="1418.5" y2="364.9" stroke-width="2.8"/><line x1="1409.5" y1="391.6" x2="1418.5" y2="391.6" stroke-width="2.8"/><line x1="1409.5" y1="418.2" x2="1418.5" y2="418.2" stroke-width="2.8"/><line x1="1403.7" y1="444.9" x2="1418.5" y2="444.9" stroke-width="3.2"/><line x1="1409.5" y1="471.6" x2="1418.5" y2="471.6" stroke-width="2.8"/><line x1="1409.5" y1="498.2" x2="1418.5" y2="498.2" stroke-width="2.8"/><line x1="1409.5" y1="524.9" x2="1418.5" y2="524.9" stroke-width="2.8"/><line x1="1403.7" y1="551.5" x2="1418.5" y2="551.5" stroke-width="3.2"/><line x1="1409.5" y1="578.1" x2="1418.5" y2="578.1" stroke-width="2.8"/><line x1="1740" y1="52.9" x2="1749" y2="52.9" stroke-width="2.8"/><line x1="1740" y1="73.9" x2="1749" y2="73.9" stroke-width="2.8"/><line x1="1734.2" y1="94.9" x2="1749" y2="94.9" stroke-width="3.2"/><line x1="1740" y1="115.9" x2="1749" y2="115.9" stroke-width="2.8"/><line x1="1740" y1="136.9" x2="1749" y2="136.9" stroke-width="2.8"/><line x1="1740" y1="157.9" x2="1749" y2="157.9" stroke-width="2.8"/><line x1="1740" y1="178.9" x2="1749" y2="178.9" stroke-width="2.8"/><line x1="1740" y1="199.9" x2="1749" y2="199.9" stroke-width="2.8"/><line x1="1740" y1="221" x2="1749" y2="221" stroke-width="2.8"/><line x1="1740" y1="242" x2="1749" y2="242" stroke-width="2.8"/><line x1="1740" y1="263" x2="1749" y2="263" stroke-width="2.8"/><line x1="1740" y1="284" x2="1749" y2="284" stroke-width="2.8"/><line x1="1734.2" y1="305" x2="1749" y2="305" stroke-width="3.2"/><line x1="1740" y1="326" x2="1749" y2="326" stroke-width="2.8"/><line x1="1740" y1="347" x2="1749" y2="347" stroke-width="2.8"/><line x1="1740" y1="368" x2="1749" y2="368" stroke-width="2.8"/><line x1="1740" y1="389" x2="1749" y2="389" stroke-width="2.8"/><line x1="1740" y1="410" x2="1749" y2="410" stroke-width="2.8"/><line x1="1740" y1="431.1" x2="1749" y2="431.1" stroke-width="2.8"/><line x1="1740" y1="452.1" x2="1749" y2="452.1" stroke-width="2.8"/><line x1="1740" y1="473.1" x2="1749" y2="473.1" stroke-width="2.8"/><line x1="1740" y1="494.1" x2="1749" y2="494.1" stroke-width="2.8"/><line x1="1734.2" y1="515.1" x2="1749" y2="515.1" stroke-width="3.2"/><line x1="1740" y1="536.1" x2="1749" y2="536.1" stroke-width="2.8"/><line x1="1740" y1="557.1" x2="1749" y2="557.1" stroke-width="2.8"/><line x1="1740" y1="578.1" x2="1749" y2="578.1" stroke-width="2.8"/><line x1="1755.8" y1="577.8" x2="1755.8" y2="586.8" stroke-width="2.8"/><line x1="1775.7" y1="577.8" x2="1775.7" y2="586.8" stroke-width="2.8"/><line x1="1795.5" y1="577.8" x2="1795.5" y2="592.6" stroke-width="3.2"/><line x1="1815.4" y1="577.8" x2="1815.4" y2="586.8" stroke-width="2.8"/><line x1="1835.2" y1="577.8" x2="1835.2" y2="586.8" stroke-width="2.8"/><line x1="1855.1" y1="577.8" x2="1855.1" y2="586.8" stroke-width="2.8"/><line x1="1874.9" y1="577.8" x2="1874.9" y2="592.6" stroke-width="3.2"/><line x1="1894.8" y1="577.8" x2="1894.8" y2="586.8" stroke-width="2.8"/><line x1="1914.6" y1="577.8" x2="1914.6" y2="586.8" stroke-width="2.8"/><line x1="1934.5" y1="577.8" x2="1934.5" y2="586.8" stroke-width="2.8"/><line x1="1954.3" y1="577.8" x2="1954.3" y2="592.6" stroke-width="3.2"/><line x1="1974.2" y1="577.8" x2="1974.2" y2="586.8" stroke-width="2.8"/><line x1="1994" y1="577.8" x2="1994" y2="586.8" stroke-width="2.8"/></g><g fill="none" stroke="#000" stroke-width="3.2"><rect x="168" y="53" width="227.2" height="250"/><rect x="418.1" y="53" width="227.2" height="250"/><rect x="668.2" y="53" width="227.2" height="250"/><rect x="918.3" y="53" width="227.2" height="250"/><rect x="1168.4" y="53" width="227.2" height="250"/><rect x="1418.5" y="53" width="227.2" height="250"/><rect x="168" y="328" width="227.2" height="250"/><rect x="418.1" y="328" width="227.2" height="250"/><rect x="668.2" y="328" width="227.2" height="250"/><rect x="918.3" y="328" width="227.2" height="250"/><rect x="1168.4" y="328" width="227.2" height="250"/><rect x="1418.5" y="328" width="227.2" height="250"/><rect x="1749" y="53" width="246.5" height="524.8"/></g><defs><linearGradient id="cbg" x1="0" x2="1" y1="0" y2="0"><stop offset="0" stop-color="#fbfcbf"/><stop offset="0.1" stop-color="#fdcf92"/><stop offset="0.2" stop-color="#fd9f6c"/><stop offset="0.3" stop-color="#f6705b"/><stop offset="0.4" stop-color="#dd4968"/><stop offset="0.5" stop-color="#b63679"/><stop offset="0.6" stop-color="#8c2980"/><stop offset="0.7" stop-color="#63197f"/><stop offset="0.8" stop-color="#3b0f6f"/><stop offset="0.9" stop-color="#140d35"/><stop offset="1" stop-color="#000003"/></linearGradient></defs><path d="M167.7,685 L442,685 L457,692.6 L442,700.2 L167.7,700.2 Z" fill="url(#cbg)" stroke="#000" stroke-width="2.6"/><g font-family="'Liberation Serif', 'DejaVu Serif', serif" fill="#000"><text x="0" y="0" font-size="100" transform="translate(238.37,27.50) scale(0.3763,0.3462)">Γ→H</text><text x="0" y="0" font-size="100" font-style="italic" transform="translate(425.33,26.85) scale(0.3325,0.3310)">LDA Non magn.</text><text x="0" y="0" font-size="100" font-style="italic" transform="translate(661.64,26.95) scale(0.3359,0.3261)">LDA + U Antiferr.</text><text x="0" y="0" font-size="100" transform="translate(988.88,27.50) scale(0.3724,0.3462)">Γ→N</text><text x="0" y="0" font-size="100" font-style="italic" transform="translate(1175.43,26.85) scale(0.3336,0.3310)">LDA Non magn.</text><text x="0" y="0" font-size="100" font-style="italic" transform="translate(1412.03,26.95) scale(0.3349,0.3261)">LDA + U Antiferr.</text><text x="0" y="0" font-size="100" transform="translate(1780.53,27.36) scale(0.3573,0.3400)">Γ→H <tspan font-style="italic">p-pol.</tspan></text><text x="0" y="0" font-size="100" font-style="italic" transform="translate(5.70,64.30) scale(0.4326,0.4189)">p-pol.</text><text x="0" y="0" font-size="100" transform="translate(3.73,108.57) scale(0.4187,0.3967)">(<tspan font-style="italic">sym</tspan>)</text><text x="0" y="0" font-size="100" font-style="italic" transform="translate(3.77,491.55) scale(0.4274,0.4167)">s-pol.</text><text x="0" y="0" font-size="100" transform="translate(4.03,536.21) scale(0.4174,0.4089)">(<tspan font-style="italic">asym</tspan>)</text><text x="0" y="0" font-size="100" transform="translate(115.72,76.66) scale(0.4690,0.4224)">0</text><text x="0" y="0" font-size="100" transform="translate(103.16,183.90) scale(0.4351,0.4385)">-2</text><text x="0" y="0" font-size="100" transform="translate(103.25,290.50) scale(0.4128,0.4385)">-4</text><text x="0" y="0" font-size="100" transform="translate(115.72,351.66) scale(0.4690,0.4224)">0</text><text x="0" y="0" font-size="100" transform="translate(103.16,458.90) scale(0.4351,0.4385)">-2</text><text x="0" y="0" font-size="100" transform="translate(103.25,565.50) scale(0.4128,0.4385)">-4</text><text x="0" y="0" font-size="100" transform="translate(1697.01,108.62) scale(0.4714,0.4388)">0</text><text x="0" y="0" font-size="100" transform="translate(1683.62,319.50) scale(0.3959,0.4379)">-1</text><text x="0" y="0" font-size="100" transform="translate(1683.43,528.80) scale(0.4432,0.4338)">-2</text><text x="0" y="0" font-size="100" transform="translate(213.67,635.66) scale(0.4690,0.4194)">0</text><text x="0" y="0" font-size="100" transform="translate(274.16,636.50) scale(0.4429,0.4258)">1</text><text x="0" y="0" font-size="100" transform="translate(334.88,636.50) scale(0.4800,0.4323)">2</text><text x="0" y="0" font-size="100" transform="translate(963.97,635.66) scale(0.4690,0.4194)">0</text><text x="0" y="0" font-size="100" transform="translate(1024.46,636.50) scale(0.4429,0.4258)">1</text><text x="0" y="0" font-size="100" transform="translate(1085.18,636.50) scale(0.4800,0.4323)">2</text><text x="0" y="0" font-size="100" transform="translate(1770.12,635.47) scale(0.4205,0.4134)">0.8</text><text x="0" y="0" font-size="100" transform="translate(1850.08,635.49) scale(0.4250,0.4074)">1.0</text><text x="0" y="0" font-size="100" transform="translate(1928.75,635.89) scale(0.4391,0.4134)">1.2</text><text x="0" y="0" font-size="100" transform="translate(461.68,621.40) scale(0.4750,0.4369)">Γ</text><text x="0" y="0" font-size="100" transform="translate(592.26,621.40) scale(0.4455,0.4369)">H</text><text x="0" y="0" font-size="100" transform="translate(712.40,621.40) scale(0.4654,0.4369)">Γ</text><text x="0" y="0" font-size="100" transform="translate(776.65,621.40) scale(0.4235,0.4369)">X</text><text x="0" y="0" font-size="100" transform="translate(839.92,621.40) scale(0.4606,0.4600)">Γ′</text><text x="0" y="0" font-size="100" transform="translate(1212.59,621.50) scale(0.4692,0.4415)">Γ</text><text x="0" y="0" font-size="100" transform="translate(1303.68,621.50) scale(0.4388,0.4415)">N</text><text x="0" y="0" font-size="100" transform="translate(1462.59,621.50) scale(0.4692,0.4415)">Γ</text><text x="0" y="0" font-size="100" transform="translate(1553.68,621.50) scale(0.4388,0.4415)">N</text><text x="0" y="0" font-size="100" transform="translate(172.70,287.40) scale(0.4000,0.4000)">(a)</text><text x="0" y="0" font-size="100" transform="translate(421.30,287.40) scale(0.4000,0.4000)">(b)</text><text x="0" y="0" font-size="100" transform="translate(672.65,287.40) scale(0.4000,0.4000)">(c)</text><text x="0" y="0" font-size="100" transform="translate(920.60,287.40) scale(0.4000,0.4000)">(d)</text><text x="0" y="0" font-size="100" transform="translate(1172.80,287.40) scale(0.4000,0.4000)">(e)</text><text x="0" y="0" font-size="100" transform="translate(1422.53,287.58) scale(0.3913,0.3913)">(f)</text><text x="0" y="0" font-size="100" transform="translate(171.50,562.40) scale(0.4000,0.4000)">(g)</text><text x="0" y="0" font-size="100" transform="translate(421.60,562.40) scale(0.4000,0.4000)">(h)</text><text x="0" y="0" font-size="100" transform="translate(671.70,562.40) scale(0.4000,0.4000)">(i)</text><text x="0" y="0" font-size="100" transform="translate(920.80,562.40) scale(0.4000,0.4000)">(l)</text><text x="0" y="0" font-size="100" transform="translate(1171.90,562.40) scale(0.4000,0.4000)">(m)</text><text x="0" y="0" font-size="100" transform="translate(1422.00,562.40) scale(0.4000,0.4000)">(n)</text><text x="0" y="0" font-size="100" transform="translate(1752.39,557.55) scale(0.4022,0.4022)">(o)</text><text x="0" y="0" font-size="100" transform="translate(1834.05,421.00) scale(0.6115,0.5231)">I</text><text x="0" y="0" font-size="100" transform="translate(1946.90,168.00) scale(0.5254,0.5308)">II</text><text x="0" y="0" font-size="100" transform="translate(100.65,697.80) scale(0.3763,0.4000)">min</text><text x="0" y="0" font-size="100" transform="translate(456.46,697.33) scale(0.3698,0.3729)">max</text><text x="0" y="0" font-size="100" font-style="italic" transform="translate(904.39,695.70) scale(0.4698,0.4942)">k</text><text x="0" y="0" font-size="100" font-style="italic" transform="translate(928.08,702.52) scale(0.2940,0.3788)">//</text><text x="0" y="0" font-size="100" transform="translate(957.12,694.84) scale(0.4962,0.4744)">(</text><text x="0" y="0" font-size="100" font-style="italic" transform="translate(974.33,696.20) scale(0.4667,0.6049)">Å</text><text x="0" y="0" font-size="100" transform="translate(1013.71,689.62) scale(0.4170,0.6200)">−</text><text x="0" y="0" font-size="100" transform="translate(1039.73,678.40) scale(0.2743,0.3636)">1</text><text x="0" y="0" font-size="100" transform="translate(1057.50,694.84) scale(0.5000,0.4744)">)</text><text x="0" y="0" font-size="100" font-style="italic" transform="translate(36.13,393.49) rotate(-90) scale(0.5146,0.4700)">E <tspan font-style="normal">−</tspan> E<tspan font-size="70" dy="16">F</tspan><tspan dy="-16" font-style="normal"> (</tspan>eV<tspan font-style="normal">)</tspan></text></g></svg></body></html>
